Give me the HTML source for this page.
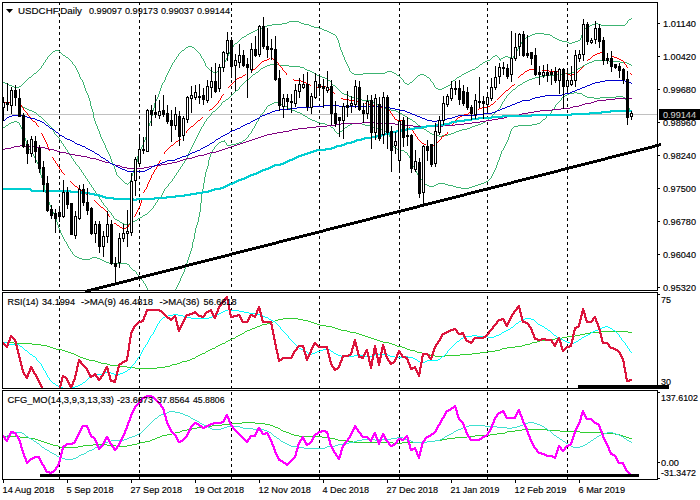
<!DOCTYPE html>
<html><head><meta charset="utf-8"><title>USDCHF Daily</title>
<style>
html,body{margin:0;padding:0;background:#fff;}
body{width:700px;height:500px;overflow:hidden;}
svg{display:block;}
.t{font-family:"Liberation Sans",sans-serif;font-size:9.8px;white-space:pre;stroke:#000;stroke-width:0.15px;}
</style></head><body>
<svg width="700" height="500" viewBox="0 0 700 500">
<rect width="700" height="500" fill="#fff"/>
<rect x="2.5" y="2.5" width="655" height="288" fill="none" stroke="#000" stroke-width="1"/>
<rect x="2.5" y="292.5" width="655" height="96" fill="none" stroke="#000" stroke-width="1"/>
<rect x="2.5" y="390.5" width="655" height="89" fill="none" stroke="#000" stroke-width="1"/>
<line x1="59.5" y1="3" x2="59.5" y2="290" stroke="#000" stroke-width="1" stroke-dasharray="3 3" stroke-dashoffset="1" shape-rendering="crispEdges"/>
<line x1="59.5" y1="293" x2="59.5" y2="388" stroke="#000" stroke-width="1" stroke-dasharray="3 3" stroke-dashoffset="3" shape-rendering="crispEdges"/>
<line x1="59.5" y1="391" x2="59.5" y2="479" stroke="#000" stroke-width="1" stroke-dasharray="3 3" stroke-dashoffset="5" shape-rendering="crispEdges"/>
<line x1="139.5" y1="3" x2="139.5" y2="290" stroke="#000" stroke-width="1" stroke-dasharray="3 3" stroke-dashoffset="1" shape-rendering="crispEdges"/>
<line x1="139.5" y1="293" x2="139.5" y2="388" stroke="#000" stroke-width="1" stroke-dasharray="3 3" stroke-dashoffset="3" shape-rendering="crispEdges"/>
<line x1="139.5" y1="391" x2="139.5" y2="479" stroke="#000" stroke-width="1" stroke-dasharray="3 3" stroke-dashoffset="5" shape-rendering="crispEdges"/>
<line x1="231.5" y1="3" x2="231.5" y2="290" stroke="#000" stroke-width="1" stroke-dasharray="3 3" stroke-dashoffset="1" shape-rendering="crispEdges"/>
<line x1="231.5" y1="293" x2="231.5" y2="388" stroke="#000" stroke-width="1" stroke-dasharray="3 3" stroke-dashoffset="3" shape-rendering="crispEdges"/>
<line x1="231.5" y1="391" x2="231.5" y2="479" stroke="#000" stroke-width="1" stroke-dasharray="3 3" stroke-dashoffset="5" shape-rendering="crispEdges"/>
<line x1="319.5" y1="3" x2="319.5" y2="290" stroke="#000" stroke-width="1" stroke-dasharray="3 3" stroke-dashoffset="1" shape-rendering="crispEdges"/>
<line x1="319.5" y1="293" x2="319.5" y2="388" stroke="#000" stroke-width="1" stroke-dasharray="3 3" stroke-dashoffset="3" shape-rendering="crispEdges"/>
<line x1="319.5" y1="391" x2="319.5" y2="479" stroke="#000" stroke-width="1" stroke-dasharray="3 3" stroke-dashoffset="5" shape-rendering="crispEdges"/>
<line x1="399.5" y1="3" x2="399.5" y2="290" stroke="#000" stroke-width="1" stroke-dasharray="3 3" stroke-dashoffset="1" shape-rendering="crispEdges"/>
<line x1="399.5" y1="293" x2="399.5" y2="388" stroke="#000" stroke-width="1" stroke-dasharray="3 3" stroke-dashoffset="3" shape-rendering="crispEdges"/>
<line x1="399.5" y1="391" x2="399.5" y2="479" stroke="#000" stroke-width="1" stroke-dasharray="3 3" stroke-dashoffset="5" shape-rendering="crispEdges"/>
<line x1="487.5" y1="3" x2="487.5" y2="290" stroke="#000" stroke-width="1" stroke-dasharray="3 3" stroke-dashoffset="1" shape-rendering="crispEdges"/>
<line x1="487.5" y1="293" x2="487.5" y2="388" stroke="#000" stroke-width="1" stroke-dasharray="3 3" stroke-dashoffset="3" shape-rendering="crispEdges"/>
<line x1="487.5" y1="391" x2="487.5" y2="479" stroke="#000" stroke-width="1" stroke-dasharray="3 3" stroke-dashoffset="5" shape-rendering="crispEdges"/>
<line x1="567.5" y1="3" x2="567.5" y2="290" stroke="#000" stroke-width="1" stroke-dasharray="3 3" stroke-dashoffset="1" shape-rendering="crispEdges"/>
<line x1="567.5" y1="293" x2="567.5" y2="388" stroke="#000" stroke-width="1" stroke-dasharray="3 3" stroke-dashoffset="3" shape-rendering="crispEdges"/>
<line x1="567.5" y1="391" x2="567.5" y2="479" stroke="#000" stroke-width="1" stroke-dasharray="3 3" stroke-dashoffset="5" shape-rendering="crispEdges"/>
<line x1="3" y1="114.5" x2="657" y2="114.5" stroke="#c0c0c0" stroke-width="1"/>
<g shape-rendering="crispEdges">
<path fill="#3cb371" d="M631 18h1v1h-1zM629 19h2v1h-2zM628 20h1v1h-1zM289 21h10v1h-10zM627 21h1v1h-1zM287 22h2v1h-2zM299 22h2v1h-2zM627 22h1v1h-1zM282 23h5v1h-5zM301 23h3v1h-3zM595 23h3v1h-3zM626 23h1v1h-1zM272 24h10v1h-10zM304 24h5v1h-5zM592 24h3v1h-3zM598 24h3v1h-3zM625 24h1v1h-1zM267 25h5v1h-5zM309 25h2v1h-2zM590 25h2v1h-2zM601 25h24v1h-24zM265 26h2v1h-2zM311 26h3v1h-3zM588 26h2v1h-2zM262 27h3v1h-3zM314 27h5v1h-5zM586 27h2v1h-2zM260 28h2v1h-2zM319 28h3v1h-3zM585 28h1v1h-1zM257 29h3v1h-3zM322 29h2v1h-2zM584 29h1v1h-1zM255 30h2v1h-2zM324 30h3v1h-3zM583 30h1v1h-1zM253 31h2v1h-2zM327 31h2v1h-2zM583 31h1v1h-1zM251 32h2v1h-2zM329 32h2v1h-2zM582 32h1v1h-1zM249 33h2v1h-2zM331 33h2v1h-2zM535 33h9v1h-9zM582 33h1v1h-1zM247 34h2v1h-2zM333 34h2v1h-2zM532 34h3v1h-3zM544 34h6v1h-6zM582 34h1v1h-1zM246 35h1v1h-1zM335 35h1v1h-1zM530 35h2v1h-2zM550 35h2v1h-2zM581 35h1v1h-1zM244 36h2v1h-2zM336 36h1v1h-1zM528 36h2v1h-2zM552 36h1v1h-1zM581 36h1v1h-1zM242 37h2v1h-2zM336 37h1v1h-1zM526 37h2v1h-2zM553 37h2v1h-2zM581 37h1v1h-1zM241 38h1v1h-1zM337 38h1v1h-1zM525 38h1v1h-1zM555 38h2v1h-2zM580 38h1v1h-1zM240 39h1v1h-1zM337 39h1v1h-1zM524 39h1v1h-1zM557 39h2v1h-2zM580 39h1v1h-1zM239 40h1v1h-1zM338 40h1v1h-1zM523 40h1v1h-1zM559 40h3v1h-3zM578 40h2v1h-2zM238 41h1v1h-1zM338 41h1v1h-1zM522 41h1v1h-1zM562 41h5v1h-5zM575 41h3v1h-3zM237 42h1v1h-1zM338 42h1v1h-1zM521 42h1v1h-1zM567 42h2v1h-2zM572 42h3v1h-3zM235 43h2v1h-2zM339 43h1v1h-1zM521 43h1v1h-1zM569 43h3v1h-3zM234 44h1v1h-1zM339 44h1v1h-1zM520 44h1v1h-1zM233 45h1v1h-1zM339 45h1v1h-1zM519 45h1v1h-1zM188 46h4v1h-4zM233 46h1v1h-1zM339 46h1v1h-1zM519 46h1v1h-1zM186 47h2v1h-2zM192 47h2v1h-2zM232 47h1v1h-1zM340 47h1v1h-1zM518 47h1v1h-1zM185 48h1v1h-1zM194 48h1v1h-1zM232 48h1v1h-1zM340 48h1v1h-1zM518 48h1v1h-1zM184 49h1v1h-1zM195 49h1v1h-1zM231 49h1v1h-1zM340 49h1v1h-1zM517 49h1v1h-1zM55 50h4v1h-4zM182 50h2v1h-2zM196 50h1v1h-1zM230 50h1v1h-1zM341 50h1v1h-1zM517 50h1v1h-1zM53 51h2v1h-2zM59 51h1v1h-1zM181 51h1v1h-1zM197 51h1v1h-1zM230 51h1v1h-1zM341 51h1v1h-1zM516 51h1v1h-1zM52 52h1v1h-1zM60 52h1v1h-1zM180 52h1v1h-1zM198 52h1v1h-1zM229 52h1v1h-1zM342 52h1v1h-1zM516 52h1v1h-1zM51 53h1v1h-1zM61 53h1v1h-1zM179 53h1v1h-1zM199 53h1v1h-1zM229 53h1v1h-1zM342 53h1v1h-1zM515 53h1v1h-1zM50 54h1v1h-1zM62 54h1v1h-1zM178 54h1v1h-1zM200 54h1v1h-1zM228 54h1v1h-1zM342 54h1v1h-1zM514 54h1v1h-1zM49 55h1v1h-1zM63 55h2v1h-2zM178 55h1v1h-1zM200 55h1v1h-1zM228 55h1v1h-1zM343 55h1v1h-1zM495 55h2v1h-2zM514 55h1v1h-1zM48 56h1v1h-1zM65 56h1v1h-1zM177 56h1v1h-1zM201 56h1v1h-1zM227 56h1v1h-1zM343 56h1v1h-1zM493 56h2v1h-2zM497 56h1v1h-1zM505 56h3v1h-3zM513 56h1v1h-1zM47 57h1v1h-1zM66 57h2v1h-2zM176 57h1v1h-1zM201 57h1v1h-1zM227 57h1v1h-1zM344 57h1v1h-1zM492 57h1v1h-1zM498 57h1v1h-1zM503 57h2v1h-2zM508 57h3v1h-3zM513 57h1v1h-1zM47 58h1v1h-1zM68 58h1v1h-1zM176 58h1v1h-1zM202 58h1v1h-1zM226 58h1v1h-1zM344 58h1v1h-1zM491 58h1v1h-1zM499 58h1v1h-1zM501 58h2v1h-2zM511 58h2v1h-2zM46 59h1v1h-1zM69 59h1v1h-1zM175 59h1v1h-1zM203 59h1v1h-1zM226 59h1v1h-1zM344 59h1v1h-1zM490 59h1v1h-1zM499 59h2v1h-2zM45 60h1v1h-1zM70 60h1v1h-1zM174 60h1v1h-1zM203 60h1v1h-1zM225 60h1v1h-1zM345 60h1v1h-1zM487 60h3v1h-3zM500 60h1v1h-1zM45 61h1v1h-1zM71 61h1v1h-1zM174 61h1v1h-1zM204 61h1v1h-1zM225 61h1v1h-1zM345 61h1v1h-1zM485 61h2v1h-2zM44 62h1v1h-1zM72 62h1v1h-1zM173 62h1v1h-1zM204 62h1v1h-1zM224 62h1v1h-1zM346 62h1v1h-1zM483 62h2v1h-2zM43 63h1v1h-1zM72 63h1v1h-1zM172 63h1v1h-1zM205 63h1v1h-1zM224 63h1v1h-1zM346 63h1v1h-1zM482 63h1v1h-1zM43 64h1v1h-1zM73 64h1v1h-1zM172 64h1v1h-1zM205 64h1v1h-1zM223 64h1v1h-1zM347 64h1v1h-1zM480 64h2v1h-2zM42 65h1v1h-1zM74 65h1v1h-1zM171 65h1v1h-1zM205 65h1v1h-1zM223 65h1v1h-1zM347 65h1v1h-1zM479 65h1v1h-1zM41 66h1v1h-1zM75 66h1v1h-1zM171 66h1v1h-1zM206 66h1v1h-1zM222 66h1v1h-1zM348 66h1v1h-1zM478 66h1v1h-1zM41 67h1v1h-1zM75 67h1v1h-1zM170 67h1v1h-1zM207 67h1v1h-1zM221 67h1v1h-1zM348 67h1v1h-1zM476 67h2v1h-2zM40 68h1v1h-1zM76 68h1v1h-1zM170 68h1v1h-1zM208 68h1v1h-1zM220 68h1v1h-1zM349 68h1v1h-1zM475 68h1v1h-1zM39 69h1v1h-1zM76 69h1v1h-1zM169 69h1v1h-1zM209 69h1v1h-1zM220 69h1v1h-1zM349 69h1v1h-1zM472 69h3v1h-3zM38 70h1v1h-1zM77 70h1v1h-1zM169 70h1v1h-1zM210 70h1v1h-1zM218 70h2v1h-2zM349 70h1v1h-1zM470 70h2v1h-2zM37 71h1v1h-1zM77 71h1v1h-1zM168 71h1v1h-1zM211 71h2v1h-2zM217 71h1v1h-1zM350 71h1v1h-1zM387 71h5v1h-5zM468 71h2v1h-2zM36 72h1v1h-1zM78 72h1v1h-1zM168 72h1v1h-1zM213 72h2v1h-2zM216 72h1v1h-1zM351 72h1v1h-1zM385 72h2v1h-2zM392 72h2v1h-2zM466 72h2v1h-2zM34 73h2v1h-2zM78 73h1v1h-1zM167 73h1v1h-1zM215 73h1v1h-1zM352 73h2v1h-2zM363 73h22v1h-22zM394 73h2v1h-2zM464 73h2v1h-2zM33 74h1v1h-1zM79 74h1v1h-1zM167 74h1v1h-1zM354 74h9v1h-9zM396 74h1v1h-1zM420 74h4v1h-4zM462 74h2v1h-2zM32 75h1v1h-1zM79 75h1v1h-1zM166 75h1v1h-1zM397 75h2v1h-2zM418 75h2v1h-2zM424 75h2v1h-2zM461 75h1v1h-1zM31 76h1v1h-1zM79 76h1v1h-1zM166 76h1v1h-1zM399 76h1v1h-1zM417 76h1v1h-1zM426 76h1v1h-1zM459 76h2v1h-2zM29 77h2v1h-2zM80 77h1v1h-1zM165 77h1v1h-1zM400 77h1v1h-1zM416 77h1v1h-1zM427 77h2v1h-2zM457 77h2v1h-2zM28 78h1v1h-1zM80 78h1v1h-1zM165 78h1v1h-1zM401 78h1v1h-1zM415 78h1v1h-1zM429 78h1v1h-1zM456 78h1v1h-1zM27 79h1v1h-1zM81 79h1v1h-1zM165 79h1v1h-1zM402 79h1v1h-1zM414 79h1v1h-1zM430 79h1v1h-1zM455 79h1v1h-1zM26 80h1v1h-1zM82 80h1v1h-1zM164 80h1v1h-1zM403 80h1v1h-1zM413 80h1v1h-1zM430 80h1v1h-1zM453 80h2v1h-2zM25 81h1v1h-1zM82 81h1v1h-1zM164 81h1v1h-1zM403 81h1v1h-1zM412 81h1v1h-1zM431 81h1v1h-1zM452 81h1v1h-1zM3 82h2v1h-2zM24 82h1v1h-1zM83 82h1v1h-1zM163 82h1v1h-1zM404 82h1v1h-1zM410 82h2v1h-2zM432 82h1v1h-1zM451 82h1v1h-1zM5 83h2v1h-2zM23 83h1v1h-1zM83 83h1v1h-1zM162 83h1v1h-1zM405 83h2v1h-2zM409 83h1v1h-1zM433 83h1v1h-1zM451 83h1v1h-1zM7 84h2v1h-2zM22 84h1v1h-1zM83 84h1v1h-1zM162 84h1v1h-1zM407 84h2v1h-2zM433 84h1v1h-1zM450 84h1v1h-1zM9 85h3v1h-3zM21 85h1v1h-1zM84 85h1v1h-1zM161 85h1v1h-1zM434 85h1v1h-1zM448 85h2v1h-2zM12 86h2v1h-2zM19 86h2v1h-2zM84 86h1v1h-1zM161 86h1v1h-1zM434 86h1v1h-1zM446 86h2v1h-2zM14 87h5v1h-5zM84 87h1v1h-1zM161 87h1v1h-1zM435 87h1v1h-1zM444 87h2v1h-2zM85 88h1v1h-1zM160 88h1v1h-1zM436 88h2v1h-2zM442 88h2v1h-2zM85 89h1v1h-1zM160 89h1v1h-1zM438 89h4v1h-4zM85 90h1v1h-1zM160 90h1v1h-1zM86 91h1v1h-1zM159 91h1v1h-1zM86 92h1v1h-1zM159 92h1v1h-1zM87 93h1v1h-1zM159 93h1v1h-1zM87 94h1v1h-1zM158 94h1v1h-1zM88 95h1v1h-1zM158 95h1v1h-1zM88 96h1v1h-1zM158 96h1v1h-1zM88 97h1v1h-1zM157 97h1v1h-1zM89 98h1v1h-1zM157 98h1v1h-1zM89 99h1v1h-1zM156 99h1v1h-1zM89 100h1v1h-1zM156 100h1v1h-1zM90 101h1v1h-1zM155 101h1v1h-1zM90 102h1v1h-1zM155 102h1v1h-1zM90 103h1v1h-1zM154 103h1v1h-1zM90 104h1v1h-1zM154 104h1v1h-1zM90 105h1v1h-1zM154 105h1v1h-1zM91 106h1v1h-1zM154 106h1v1h-1zM91 107h1v1h-1zM154 107h1v1h-1zM91 108h1v1h-1zM153 108h1v1h-1zM92 109h1v1h-1zM153 109h1v1h-1zM92 110h1v1h-1zM153 110h1v1h-1zM92 111h1v1h-1zM152 111h1v1h-1zM93 112h1v1h-1zM152 112h1v1h-1zM93 113h1v1h-1zM152 113h1v1h-1zM93 114h1v1h-1zM152 114h1v1h-1zM93 115h1v1h-1zM152 115h1v1h-1zM93 116h1v1h-1zM151 116h1v1h-1zM93 117h1v1h-1zM151 117h1v1h-1zM94 118h1v1h-1zM151 118h1v1h-1zM94 119h1v1h-1zM151 119h1v1h-1zM94 120h1v1h-1zM151 120h1v1h-1zM95 121h1v1h-1zM150 121h1v1h-1zM95 122h1v1h-1zM150 122h1v1h-1zM95 123h1v1h-1zM149 123h1v1h-1zM96 124h1v1h-1zM149 124h1v1h-1zM96 125h1v1h-1zM149 125h1v1h-1zM97 126h1v1h-1zM148 126h1v1h-1zM97 127h1v1h-1zM148 127h1v1h-1zM97 128h1v1h-1zM148 128h1v1h-1zM98 129h1v1h-1zM148 129h1v1h-1zM98 130h1v1h-1zM148 130h1v1h-1zM99 131h1v1h-1zM148 131h1v1h-1zM99 132h1v1h-1zM147 132h1v1h-1zM99 133h1v1h-1zM147 133h1v1h-1zM100 134h1v1h-1zM147 134h1v1h-1zM100 135h1v1h-1zM146 135h1v1h-1zM100 136h1v1h-1zM146 136h1v1h-1zM101 137h1v1h-1zM145 137h1v1h-1zM101 138h1v1h-1zM145 138h1v1h-1zM102 139h1v1h-1zM145 139h1v1h-1zM102 140h1v1h-1zM144 140h1v1h-1zM103 141h1v1h-1zM144 141h1v1h-1zM103 142h1v1h-1zM143 142h1v1h-1zM104 143h1v1h-1zM143 143h1v1h-1zM104 144h1v1h-1zM143 144h1v1h-1zM105 145h1v1h-1zM142 145h1v1h-1zM105 146h1v1h-1zM142 146h1v1h-1zM105 147h1v1h-1zM141 147h1v1h-1zM106 148h1v1h-1zM141 148h1v1h-1zM106 149h1v1h-1zM140 149h1v1h-1zM107 150h1v1h-1zM140 150h1v1h-1zM107 151h1v1h-1zM139 151h1v1h-1zM108 152h1v1h-1zM139 152h1v1h-1zM108 153h1v1h-1zM138 153h1v1h-1zM109 154h1v1h-1zM138 154h1v1h-1zM109 155h1v1h-1zM138 155h1v1h-1zM110 156h1v1h-1zM137 156h1v1h-1zM110 157h1v1h-1zM137 157h1v1h-1zM110 158h1v1h-1zM137 158h1v1h-1zM111 159h1v1h-1zM137 159h1v1h-1zM111 160h1v1h-1zM137 160h1v1h-1zM111 161h1v1h-1zM137 161h1v1h-1zM112 162h1v1h-1zM136 162h1v1h-1zM112 163h1v1h-1zM136 163h1v1h-1zM113 164h1v1h-1zM135 164h1v1h-1zM113 165h1v1h-1zM135 165h1v1h-1zM114 166h1v1h-1zM135 166h1v1h-1zM114 167h1v1h-1zM134 167h1v1h-1zM114 168h1v1h-1zM134 168h1v1h-1zM115 169h1v1h-1zM134 169h1v1h-1zM115 170h1v1h-1zM133 170h1v1h-1zM115 171h1v1h-1zM133 171h1v1h-1zM116 172h1v1h-1zM133 172h1v1h-1zM116 173h1v1h-1zM132 173h1v1h-1zM116 174h1v1h-1zM132 174h1v1h-1zM117 175h1v1h-1zM132 175h1v1h-1zM118 176h1v1h-1zM131 176h1v1h-1zM119 177h1v1h-1zM131 177h1v1h-1zM120 178h1v1h-1zM131 178h1v1h-1zM121 179h1v1h-1zM131 179h1v1h-1zM122 180h1v1h-1zM130 180h1v1h-1zM123 181h1v1h-1zM130 181h1v1h-1zM124 182h1v1h-1zM129 182h1v1h-1zM125 183h2v1h-2zM128 183h1v1h-1zM127 184h1v1h-1z"/>
<path fill="#3cb371" d="M594 60h15v1h-15zM592 61h2v1h-2zM609 61h11v1h-11zM589 62h3v1h-3zM620 62h7v1h-7zM587 63h2v1h-2zM627 63h2v1h-2zM270 64h9v1h-9zM585 64h2v1h-2zM629 64h2v1h-2zM267 65h3v1h-3zM279 65h10v1h-10zM583 65h2v1h-2zM631 65h1v1h-1zM265 66h2v1h-2zM289 66h11v1h-11zM582 66h1v1h-1zM263 67h2v1h-2zM300 67h4v1h-4zM580 67h2v1h-2zM261 68h2v1h-2zM304 68h1v1h-1zM578 68h2v1h-2zM260 69h1v1h-1zM305 69h2v1h-2zM577 69h1v1h-1zM259 70h1v1h-1zM307 70h3v1h-3zM575 70h2v1h-2zM258 71h1v1h-1zM310 71h2v1h-2zM574 71h1v1h-1zM256 72h2v1h-2zM312 72h2v1h-2zM572 72h2v1h-2zM255 73h1v1h-1zM314 73h1v1h-1zM565 73h7v1h-7zM253 74h2v1h-2zM315 74h2v1h-2zM557 74h8v1h-8zM252 75h1v1h-1zM317 75h3v1h-3zM545 75h12v1h-12zM251 76h1v1h-1zM320 76h2v1h-2zM540 76h5v1h-5zM250 77h1v1h-1zM322 77h3v1h-3zM535 77h5v1h-5zM249 78h1v1h-1zM325 78h2v1h-2zM532 78h3v1h-3zM248 79h1v1h-1zM327 79h1v1h-1zM529 79h3v1h-3zM246 80h2v1h-2zM328 80h2v1h-2zM527 80h2v1h-2zM245 81h1v1h-1zM330 81h1v1h-1zM525 81h2v1h-2zM244 82h1v1h-1zM331 82h1v1h-1zM523 82h2v1h-2zM243 83h1v1h-1zM331 83h1v1h-1zM522 83h1v1h-1zM242 84h1v1h-1zM332 84h1v1h-1zM520 84h2v1h-2zM241 85h1v1h-1zM333 85h2v1h-2zM518 85h2v1h-2zM240 86h1v1h-1zM335 86h1v1h-1zM517 86h1v1h-1zM239 87h1v1h-1zM336 87h1v1h-1zM516 87h1v1h-1zM239 88h1v1h-1zM337 88h1v1h-1zM515 88h1v1h-1zM238 89h1v1h-1zM338 89h1v1h-1zM513 89h2v1h-2zM236 90h2v1h-2zM339 90h1v1h-1zM512 90h1v1h-1zM235 91h1v1h-1zM340 91h1v1h-1zM511 91h1v1h-1zM234 92h1v1h-1zM341 92h1v1h-1zM510 92h1v1h-1zM233 93h1v1h-1zM342 93h2v1h-2zM509 93h1v1h-1zM232 94h1v1h-1zM344 94h3v1h-3zM508 94h1v1h-1zM231 95h1v1h-1zM347 95h2v1h-2zM507 95h1v1h-1zM230 96h1v1h-1zM349 96h3v1h-3zM506 96h1v1h-1zM229 97h1v1h-1zM352 97h2v1h-2zM506 97h1v1h-1zM228 98h1v1h-1zM354 98h5v1h-5zM505 98h1v1h-1zM226 99h2v1h-2zM359 99h3v1h-3zM504 99h1v1h-1zM225 100h1v1h-1zM362 100h8v1h-8zM504 100h1v1h-1zM223 101h2v1h-2zM370 101h2v1h-2zM503 101h1v1h-1zM222 102h1v1h-1zM372 102h3v1h-3zM502 102h1v1h-1zM221 103h1v1h-1zM375 103h1v1h-1zM502 103h1v1h-1zM221 104h1v1h-1zM376 104h2v1h-2zM501 104h1v1h-1zM18 105h2v1h-2zM220 105h1v1h-1zM378 105h2v1h-2zM501 105h1v1h-1zM20 106h3v1h-3zM219 106h1v1h-1zM380 106h2v1h-2zM500 106h1v1h-1zM23 107h2v1h-2zM218 107h1v1h-1zM382 107h3v1h-3zM500 107h1v1h-1zM25 108h2v1h-2zM217 108h1v1h-1zM385 108h3v1h-3zM499 108h1v1h-1zM27 109h2v1h-2zM216 109h1v1h-1zM388 109h3v1h-3zM498 109h1v1h-1zM29 110h3v1h-3zM215 110h1v1h-1zM391 110h5v1h-5zM497 110h1v1h-1zM32 111h2v1h-2zM213 111h2v1h-2zM396 111h2v1h-2zM496 111h1v1h-1zM34 112h2v1h-2zM212 112h1v1h-1zM398 112h2v1h-2zM495 112h1v1h-1zM36 113h1v1h-1zM211 113h1v1h-1zM400 113h2v1h-2zM494 113h1v1h-1zM37 114h1v1h-1zM211 114h1v1h-1zM402 114h1v1h-1zM493 114h1v1h-1zM38 115h1v1h-1zM210 115h1v1h-1zM403 115h2v1h-2zM492 115h1v1h-1zM39 116h2v1h-2zM209 116h1v1h-1zM405 116h2v1h-2zM491 116h1v1h-1zM41 117h1v1h-1zM208 117h1v1h-1zM407 117h1v1h-1zM490 117h1v1h-1zM42 118h1v1h-1zM207 118h1v1h-1zM408 118h2v1h-2zM489 118h1v1h-1zM43 119h1v1h-1zM206 119h1v1h-1zM410 119h2v1h-2zM488 119h1v1h-1zM44 120h1v1h-1zM206 120h1v1h-1zM412 120h1v1h-1zM486 120h2v1h-2zM45 121h1v1h-1zM205 121h1v1h-1zM413 121h2v1h-2zM485 121h1v1h-1zM46 122h1v1h-1zM204 122h1v1h-1zM415 122h1v1h-1zM483 122h2v1h-2zM47 123h1v1h-1zM204 123h1v1h-1zM416 123h1v1h-1zM481 123h2v1h-2zM48 124h1v1h-1zM203 124h1v1h-1zM417 124h1v1h-1zM478 124h3v1h-3zM49 125h1v1h-1zM203 125h1v1h-1zM418 125h2v1h-2zM475 125h3v1h-3zM50 126h1v1h-1zM202 126h1v1h-1zM420 126h1v1h-1zM472 126h3v1h-3zM51 127h1v1h-1zM201 127h1v1h-1zM421 127h1v1h-1zM470 127h2v1h-2zM52 128h1v1h-1zM201 128h1v1h-1zM422 128h2v1h-2zM467 128h3v1h-3zM52 129h1v1h-1zM200 129h1v1h-1zM424 129h2v1h-2zM462 129h5v1h-5zM53 130h1v1h-1zM200 130h1v1h-1zM426 130h1v1h-1zM459 130h3v1h-3zM53 131h1v1h-1zM199 131h1v1h-1zM427 131h2v1h-2zM456 131h3v1h-3zM54 132h1v1h-1zM199 132h1v1h-1zM429 132h1v1h-1zM454 132h2v1h-2zM54 133h1v1h-1zM198 133h1v1h-1zM430 133h2v1h-2zM451 133h3v1h-3zM55 134h1v1h-1zM198 134h1v1h-1zM432 134h2v1h-2zM448 134h3v1h-3zM56 135h1v1h-1zM197 135h1v1h-1zM434 135h5v1h-5zM442 135h6v1h-6zM57 136h1v1h-1zM197 136h1v1h-1zM439 136h3v1h-3zM58 137h1v1h-1zM196 137h1v1h-1zM59 138h1v1h-1zM196 138h1v1h-1zM59 139h1v1h-1zM195 139h1v1h-1zM60 140h1v1h-1zM195 140h1v1h-1zM61 141h1v1h-1zM194 141h1v1h-1zM61 142h1v1h-1zM194 142h1v1h-1zM62 143h1v1h-1zM193 143h1v1h-1zM63 144h1v1h-1zM193 144h1v1h-1zM63 145h1v1h-1zM192 145h1v1h-1zM64 146h1v1h-1zM192 146h1v1h-1zM65 147h1v1h-1zM191 147h1v1h-1zM65 148h1v1h-1zM191 148h1v1h-1zM66 149h1v1h-1zM190 149h1v1h-1zM67 150h1v1h-1zM190 150h1v1h-1zM67 151h1v1h-1zM189 151h1v1h-1zM68 152h1v1h-1zM189 152h1v1h-1zM69 153h1v1h-1zM188 153h1v1h-1zM69 154h1v1h-1zM188 154h1v1h-1zM70 155h1v1h-1zM188 155h1v1h-1zM71 156h1v1h-1zM187 156h1v1h-1zM71 157h1v1h-1zM187 157h1v1h-1zM72 158h1v1h-1zM186 158h1v1h-1zM73 159h1v1h-1zM186 159h1v1h-1zM73 160h1v1h-1zM185 160h1v1h-1zM74 161h1v1h-1zM184 161h1v1h-1zM75 162h1v1h-1zM184 162h1v1h-1zM75 163h1v1h-1zM183 163h1v1h-1zM76 164h1v1h-1zM182 164h1v1h-1zM77 165h1v1h-1zM182 165h1v1h-1zM78 166h1v1h-1zM181 166h1v1h-1zM79 167h1v1h-1zM180 167h1v1h-1zM79 168h1v1h-1zM180 168h1v1h-1zM80 169h1v1h-1zM179 169h1v1h-1zM81 170h1v1h-1zM178 170h1v1h-1zM81 171h1v1h-1zM178 171h1v1h-1zM82 172h1v1h-1zM177 172h1v1h-1zM83 173h1v1h-1zM176 173h1v1h-1zM83 174h1v1h-1zM176 174h1v1h-1zM84 175h1v1h-1zM175 175h1v1h-1zM85 176h1v1h-1zM174 176h1v1h-1zM85 177h1v1h-1zM174 177h1v1h-1zM86 178h1v1h-1zM173 178h1v1h-1zM87 179h1v1h-1zM172 179h1v1h-1zM87 180h1v1h-1zM172 180h1v1h-1zM88 181h1v1h-1zM171 181h1v1h-1zM89 182h1v1h-1zM170 182h1v1h-1zM89 183h1v1h-1zM169 183h1v1h-1zM90 184h1v1h-1zM168 184h1v1h-1zM91 185h1v1h-1zM168 185h1v1h-1zM91 186h1v1h-1zM167 186h1v1h-1zM92 187h1v1h-1zM166 187h1v1h-1zM93 188h1v1h-1zM165 188h1v1h-1zM93 189h1v1h-1zM164 189h1v1h-1zM94 190h1v1h-1zM164 190h1v1h-1zM95 191h1v1h-1zM163 191h1v1h-1zM95 192h1v1h-1zM163 192h1v1h-1zM96 193h1v1h-1zM162 193h1v1h-1zM97 194h1v1h-1zM162 194h1v1h-1zM97 195h1v1h-1zM161 195h1v1h-1zM98 196h1v1h-1zM161 196h1v1h-1zM99 197h1v1h-1zM160 197h1v1h-1zM99 198h1v1h-1zM159 198h1v1h-1zM100 199h1v1h-1zM158 199h1v1h-1zM101 200h1v1h-1zM157 200h1v1h-1zM101 201h1v1h-1zM157 201h1v1h-1zM102 202h1v1h-1zM156 202h1v1h-1zM103 203h1v1h-1zM155 203h1v1h-1zM103 204h1v1h-1zM155 204h1v1h-1zM104 205h1v1h-1zM154 205h1v1h-1zM105 206h1v1h-1zM153 206h1v1h-1zM106 207h1v1h-1zM153 207h1v1h-1zM107 208h1v1h-1zM152 208h1v1h-1zM107 209h1v1h-1zM151 209h1v1h-1zM108 210h1v1h-1zM150 210h1v1h-1zM109 211h1v1h-1zM149 211h1v1h-1zM110 212h1v1h-1zM148 212h1v1h-1zM111 213h1v1h-1zM147 213h1v1h-1zM111 214h1v1h-1zM145 214h2v1h-2zM112 215h1v1h-1zM143 215h2v1h-2zM113 216h1v1h-1zM142 216h1v1h-1zM113 217h1v1h-1zM140 217h2v1h-2zM114 218h1v1h-1zM138 218h2v1h-2zM115 219h2v1h-2zM137 219h1v1h-1zM117 220h2v1h-2zM135 220h2v1h-2zM119 221h1v1h-1zM133 221h2v1h-2zM120 222h2v1h-2zM132 222h1v1h-1zM122 223h2v1h-2zM129 223h3v1h-3zM124 224h5v1h-5z"/>
<path fill="#3cb371" d="M574 92h3v1h-3zM569 93h5v1h-5zM577 93h5v1h-5zM567 94h2v1h-2zM582 94h1v1h-1zM565 95h2v1h-2zM583 95h2v1h-2zM563 96h2v1h-2zM585 96h2v1h-2zM616 96h7v1h-7zM562 97h1v1h-1zM587 97h7v1h-7zM600 97h16v1h-16zM623 97h2v1h-2zM561 98h1v1h-1zM594 98h6v1h-6zM625 98h1v1h-1zM561 99h1v1h-1zM625 99h1v1h-1zM560 100h1v1h-1zM626 100h1v1h-1zM559 101h1v1h-1zM626 101h1v1h-1zM274 102h5v1h-5zM558 102h1v1h-1zM627 102h1v1h-1zM272 103h2v1h-2zM279 103h2v1h-2zM557 103h1v1h-1zM627 103h1v1h-1zM270 104h2v1h-2zM281 104h2v1h-2zM556 104h1v1h-1zM627 104h1v1h-1zM268 105h2v1h-2zM283 105h2v1h-2zM555 105h1v1h-1zM628 105h1v1h-1zM267 106h1v1h-1zM285 106h2v1h-2zM555 106h1v1h-1zM628 106h1v1h-1zM266 107h1v1h-1zM287 107h1v1h-1zM554 107h1v1h-1zM628 107h1v1h-1zM266 108h1v1h-1zM288 108h2v1h-2zM554 108h1v1h-1zM629 108h1v1h-1zM265 109h1v1h-1zM290 109h2v1h-2zM553 109h1v1h-1zM629 109h1v1h-1zM264 110h1v1h-1zM292 110h3v1h-3zM552 110h1v1h-1zM630 110h1v1h-1zM264 111h1v1h-1zM295 111h2v1h-2zM551 111h1v1h-1zM630 111h1v1h-1zM263 112h1v1h-1zM297 112h3v1h-3zM551 112h1v1h-1zM631 112h1v1h-1zM262 113h1v1h-1zM300 113h2v1h-2zM550 113h1v1h-1zM261 114h1v1h-1zM302 114h1v1h-1zM548 114h2v1h-2zM260 115h1v1h-1zM303 115h2v1h-2zM547 115h1v1h-1zM260 116h1v1h-1zM305 116h2v1h-2zM546 116h1v1h-1zM259 117h1v1h-1zM307 117h1v1h-1zM546 117h1v1h-1zM259 118h1v1h-1zM308 118h2v1h-2zM545 118h1v1h-1zM258 119h1v1h-1zM310 119h2v1h-2zM543 119h2v1h-2zM258 120h1v1h-1zM312 120h3v1h-3zM542 120h1v1h-1zM14 121h3v1h-3zM257 121h1v1h-1zM315 121h2v1h-2zM541 121h1v1h-1zM11 122h3v1h-3zM17 122h2v1h-2zM256 122h1v1h-1zM317 122h3v1h-3zM540 122h1v1h-1zM9 123h2v1h-2zM19 123h1v1h-1zM256 123h1v1h-1zM320 123h5v1h-5zM352 123h10v1h-10zM537 123h3v1h-3zM8 124h1v1h-1zM19 124h1v1h-1zM255 124h1v1h-1zM325 124h2v1h-2zM350 124h2v1h-2zM362 124h3v1h-3zM532 124h5v1h-5zM6 125h2v1h-2zM20 125h1v1h-1zM255 125h1v1h-1zM327 125h3v1h-3zM348 125h2v1h-2zM365 125h5v1h-5zM518 125h14v1h-14zM5 126h1v1h-1zM20 126h1v1h-1zM254 126h1v1h-1zM330 126h1v1h-1zM347 126h1v1h-1zM370 126h2v1h-2zM514 126h4v1h-4zM3 127h2v1h-2zM21 127h1v1h-1zM254 127h1v1h-1zM331 127h2v1h-2zM345 127h2v1h-2zM372 127h5v1h-5zM513 127h1v1h-1zM21 128h1v1h-1zM253 128h1v1h-1zM333 128h1v1h-1zM344 128h1v1h-1zM377 128h3v1h-3zM512 128h1v1h-1zM22 129h1v1h-1zM252 129h1v1h-1zM334 129h1v1h-1zM343 129h1v1h-1zM380 129h2v1h-2zM511 129h1v1h-1zM22 130h1v1h-1zM252 130h1v1h-1zM334 130h1v1h-1zM342 130h1v1h-1zM382 130h2v1h-2zM511 130h1v1h-1zM23 131h1v1h-1zM251 131h1v1h-1zM335 131h1v1h-1zM340 131h2v1h-2zM384 131h2v1h-2zM510 131h1v1h-1zM23 132h1v1h-1zM251 132h1v1h-1zM336 132h1v1h-1zM339 132h1v1h-1zM386 132h2v1h-2zM510 132h1v1h-1zM23 133h1v1h-1zM250 133h1v1h-1zM337 133h2v1h-2zM388 133h1v1h-1zM510 133h1v1h-1zM24 134h1v1h-1zM249 134h1v1h-1zM388 134h1v1h-1zM509 134h1v1h-1zM24 135h1v1h-1zM248 135h1v1h-1zM389 135h1v1h-1zM509 135h1v1h-1zM24 136h1v1h-1zM248 136h1v1h-1zM389 136h1v1h-1zM509 136h1v1h-1zM24 137h1v1h-1zM247 137h1v1h-1zM390 137h1v1h-1zM508 137h1v1h-1zM25 138h1v1h-1zM246 138h1v1h-1zM390 138h1v1h-1zM508 138h1v1h-1zM25 139h1v1h-1zM245 139h1v1h-1zM390 139h1v1h-1zM508 139h1v1h-1zM25 140h1v1h-1zM224 140h1v1h-1zM243 140h2v1h-2zM390 140h1v1h-1zM507 140h1v1h-1zM26 141h1v1h-1zM221 141h4v1h-4zM242 141h1v1h-1zM390 141h1v1h-1zM507 141h1v1h-1zM26 142h1v1h-1zM219 142h2v1h-2zM225 142h1v1h-1zM239 142h3v1h-3zM391 142h1v1h-1zM506 142h1v1h-1zM26 143h1v1h-1zM218 143h1v1h-1zM226 143h1v1h-1zM236 143h3v1h-3zM391 143h1v1h-1zM506 143h1v1h-1zM27 144h1v1h-1zM217 144h1v1h-1zM226 144h1v1h-1zM231 144h5v1h-5zM392 144h1v1h-1zM505 144h1v1h-1zM27 145h1v1h-1zM216 145h1v1h-1zM227 145h4v1h-4zM392 145h1v1h-1zM505 145h1v1h-1zM27 146h1v1h-1zM215 146h1v1h-1zM393 146h1v1h-1zM504 146h1v1h-1zM28 147h1v1h-1zM214 147h1v1h-1zM394 147h1v1h-1zM504 147h1v1h-1zM28 148h1v1h-1zM214 148h1v1h-1zM395 148h2v1h-2zM503 148h1v1h-1zM29 149h1v1h-1zM213 149h1v1h-1zM397 149h4v1h-4zM503 149h1v1h-1zM30 150h1v1h-1zM212 150h1v1h-1zM401 150h3v1h-3zM502 150h1v1h-1zM31 151h1v1h-1zM212 151h1v1h-1zM404 151h1v1h-1zM501 151h1v1h-1zM31 152h1v1h-1zM211 152h1v1h-1zM405 152h2v1h-2zM501 152h1v1h-1zM32 153h1v1h-1zM211 153h1v1h-1zM407 153h1v1h-1zM501 153h1v1h-1zM33 154h1v1h-1zM210 154h1v1h-1zM407 154h1v1h-1zM500 154h1v1h-1zM33 155h1v1h-1zM210 155h1v1h-1zM408 155h1v1h-1zM500 155h1v1h-1zM34 156h1v1h-1zM210 156h1v1h-1zM409 156h1v1h-1zM500 156h1v1h-1zM34 157h1v1h-1zM209 157h1v1h-1zM409 157h1v1h-1zM499 157h1v1h-1zM35 158h1v1h-1zM209 158h1v1h-1zM410 158h1v1h-1zM499 158h1v1h-1zM35 159h1v1h-1zM209 159h1v1h-1zM410 159h1v1h-1zM499 159h1v1h-1zM36 160h1v1h-1zM208 160h1v1h-1zM410 160h1v1h-1zM498 160h1v1h-1zM36 161h1v1h-1zM208 161h1v1h-1zM410 161h1v1h-1zM498 161h1v1h-1zM37 162h1v1h-1zM208 162h1v1h-1zM411 162h1v1h-1zM497 162h1v1h-1zM37 163h1v1h-1zM208 163h1v1h-1zM411 163h1v1h-1zM497 163h1v1h-1zM38 164h1v1h-1zM208 164h1v1h-1zM412 164h1v1h-1zM497 164h1v1h-1zM38 165h1v1h-1zM208 165h1v1h-1zM412 165h1v1h-1zM496 165h1v1h-1zM39 166h1v1h-1zM207 166h1v1h-1zM413 166h1v1h-1zM496 166h1v1h-1zM39 167h1v1h-1zM207 167h1v1h-1zM414 167h1v1h-1zM496 167h1v1h-1zM39 168h1v1h-1zM207 168h1v1h-1zM414 168h1v1h-1zM495 168h1v1h-1zM40 169h1v1h-1zM206 169h1v1h-1zM415 169h1v1h-1zM495 169h1v1h-1zM40 170h1v1h-1zM206 170h1v1h-1zM415 170h1v1h-1zM494 170h1v1h-1zM40 171h1v1h-1zM206 171h1v1h-1zM416 171h1v1h-1zM494 171h1v1h-1zM40 172h1v1h-1zM205 172h1v1h-1zM416 172h1v1h-1zM493 172h1v1h-1zM40 173h1v1h-1zM205 173h1v1h-1zM417 173h1v1h-1zM493 173h1v1h-1zM40 174h1v1h-1zM205 174h1v1h-1zM417 174h1v1h-1zM492 174h1v1h-1zM41 175h1v1h-1zM205 175h1v1h-1zM418 175h1v1h-1zM492 175h1v1h-1zM41 176h1v1h-1zM205 176h1v1h-1zM419 176h1v1h-1zM491 176h1v1h-1zM41 177h1v1h-1zM204 177h1v1h-1zM420 177h1v1h-1zM491 177h1v1h-1zM42 178h1v1h-1zM204 178h1v1h-1zM420 178h1v1h-1zM490 178h1v1h-1zM42 179h1v1h-1zM204 179h1v1h-1zM421 179h1v1h-1zM489 179h1v1h-1zM42 180h1v1h-1zM204 180h1v1h-1zM422 180h1v1h-1zM488 180h1v1h-1zM43 181h1v1h-1zM204 181h1v1h-1zM423 181h1v1h-1zM486 181h2v1h-2zM43 182h1v1h-1zM204 182h1v1h-1zM423 182h1v1h-1zM484 182h2v1h-2zM43 183h1v1h-1zM203 183h1v1h-1zM424 183h1v1h-1zM438 183h7v1h-7zM481 183h3v1h-3zM44 184h1v1h-1zM203 184h1v1h-1zM425 184h2v1h-2zM436 184h2v1h-2zM445 184h3v1h-3zM478 184h3v1h-3zM44 185h1v1h-1zM203 185h1v1h-1zM427 185h2v1h-2zM434 185h2v1h-2zM448 185h5v1h-5zM475 185h3v1h-3zM44 186h1v1h-1zM203 186h1v1h-1zM429 186h5v1h-5zM453 186h3v1h-3zM472 186h3v1h-3zM44 187h1v1h-1zM203 187h1v1h-1zM456 187h5v1h-5zM469 187h3v1h-3zM44 188h1v1h-1zM203 188h1v1h-1zM461 188h8v1h-8zM44 189h1v1h-1zM202 189h1v1h-1zM45 190h1v1h-1zM202 190h1v1h-1zM45 191h1v1h-1zM202 191h1v1h-1zM45 192h1v1h-1zM202 192h1v1h-1zM46 193h1v1h-1zM202 193h1v1h-1zM46 194h1v1h-1zM201 194h1v1h-1zM46 195h1v1h-1zM201 195h1v1h-1zM47 196h1v1h-1zM201 196h1v1h-1zM47 197h1v1h-1zM201 197h1v1h-1zM47 198h1v1h-1zM201 198h1v1h-1zM48 199h1v1h-1zM201 199h1v1h-1zM48 200h1v1h-1zM201 200h1v1h-1zM48 201h1v1h-1zM201 201h1v1h-1zM49 202h1v1h-1zM201 202h1v1h-1zM49 203h1v1h-1zM200 203h1v1h-1zM49 204h1v1h-1zM200 204h1v1h-1zM50 205h1v1h-1zM200 205h1v1h-1zM50 206h1v1h-1zM200 206h1v1h-1zM51 207h1v1h-1zM200 207h1v1h-1zM51 208h1v1h-1zM200 208h1v1h-1zM51 209h1v1h-1zM200 209h1v1h-1zM52 210h1v1h-1zM200 210h1v1h-1zM52 211h1v1h-1zM200 211h1v1h-1zM53 212h1v1h-1zM199 212h1v1h-1zM53 213h1v1h-1zM199 213h1v1h-1zM54 214h1v1h-1zM199 214h1v1h-1zM54 215h1v1h-1zM199 215h1v1h-1zM54 216h1v1h-1zM199 216h1v1h-1zM55 217h1v1h-1zM198 217h1v1h-1zM55 218h1v1h-1zM198 218h1v1h-1zM56 219h1v1h-1zM198 219h1v1h-1zM56 220h1v1h-1zM198 220h1v1h-1zM56 221h1v1h-1zM198 221h1v1h-1zM57 222h1v1h-1zM197 222h1v1h-1zM57 223h1v1h-1zM197 223h1v1h-1zM57 224h1v1h-1zM197 224h1v1h-1zM58 225h1v1h-1zM196 225h1v1h-1zM58 226h1v1h-1zM196 226h1v1h-1zM58 227h1v1h-1zM196 227h1v1h-1zM59 228h1v1h-1zM195 228h1v1h-1zM59 229h1v1h-1zM195 229h1v1h-1zM60 230h1v1h-1zM195 230h1v1h-1zM60 231h1v1h-1zM195 231h1v1h-1zM60 232h1v1h-1zM195 232h1v1h-1zM61 233h1v1h-1zM194 233h1v1h-1zM61 234h1v1h-1zM194 234h1v1h-1zM62 235h1v1h-1zM194 235h1v1h-1zM62 236h1v1h-1zM194 236h1v1h-1zM63 237h1v1h-1zM194 237h1v1h-1zM63 238h1v1h-1zM194 238h1v1h-1zM64 239h1v1h-1zM193 239h1v1h-1zM64 240h1v1h-1zM193 240h1v1h-1zM65 241h1v1h-1zM193 241h1v1h-1zM66 242h1v1h-1zM192 242h1v1h-1zM66 243h1v1h-1zM192 243h1v1h-1zM67 244h1v1h-1zM192 244h1v1h-1zM67 245h1v1h-1zM192 245h1v1h-1zM68 246h1v1h-1zM192 246h1v1h-1zM68 247h1v1h-1zM192 247h1v1h-1zM69 248h1v1h-1zM191 248h1v1h-1zM70 249h1v1h-1zM191 249h1v1h-1zM70 250h1v1h-1zM191 250h1v1h-1zM71 251h1v1h-1zM190 251h1v1h-1zM72 252h1v1h-1zM190 252h1v1h-1zM72 253h1v1h-1zM190 253h1v1h-1zM73 254h1v1h-1zM189 254h1v1h-1zM74 255h1v1h-1zM189 255h1v1h-1zM75 256h2v1h-2zM189 256h1v1h-1zM77 257h2v1h-2zM92 257h5v1h-5zM188 257h1v1h-1zM79 258h3v1h-3zM90 258h2v1h-2zM97 258h3v1h-3zM188 258h1v1h-1zM82 259h8v1h-8zM100 259h2v1h-2zM188 259h1v1h-1zM102 260h2v1h-2zM187 260h1v1h-1zM104 261h2v1h-2zM187 261h1v1h-1zM106 262h3v1h-3zM187 262h1v1h-1zM109 263h18v1h-18zM186 263h1v1h-1zM127 264h2v1h-2zM186 264h1v1h-1zM129 265h1v1h-1zM186 265h1v1h-1zM129 266h1v1h-1zM185 266h1v1h-1zM130 267h1v1h-1zM185 267h1v1h-1zM131 268h1v1h-1zM185 268h1v1h-1zM132 269h1v1h-1zM184 269h1v1h-1zM133 270h2v1h-2zM184 270h1v1h-1zM135 271h1v1h-1zM184 271h1v1h-1zM136 272h1v1h-1zM183 272h1v1h-1zM136 273h1v1h-1zM183 273h1v1h-1zM137 274h1v1h-1zM182 274h1v1h-1zM138 275h1v1h-1zM182 275h1v1h-1zM139 276h1v1h-1zM181 276h1v1h-1zM140 277h1v1h-1zM181 277h1v1h-1zM141 278h1v1h-1zM180 278h1v1h-1zM141 279h1v1h-1zM180 279h1v1h-1zM142 280h1v1h-1zM180 280h1v1h-1zM143 281h1v1h-1zM179 281h1v1h-1zM143 282h1v1h-1zM179 282h1v1h-1zM144 283h1v1h-1zM178 283h1v1h-1zM145 284h1v1h-1zM178 284h1v1h-1zM145 285h1v1h-1zM177 285h1v1h-1zM146 286h1v1h-1zM177 286h1v1h-1zM146 287h1v1h-1zM176 287h1v1h-1zM147 288h1v1h-1zM176 288h1v1h-1zM147 289h1v1h-1zM175 289h1v1h-1z"/>
<path fill="#ff0000" d="M600 52h5v1h-5zM597 53h3v1h-3zM595 54h2v1h-2zM593 55h2v1h-2zM611 55h1v1h-1zM592 56h1v1h-1zM612 56h2v1h-2zM591 57h1v1h-1zM614 57h3v1h-3zM269 58h1v1h-1zM272 58h1v1h-1zM590 58h1v1h-1zM617 58h2v1h-2zM267 59h2v1h-2zM273 59h2v1h-2zM588 59h2v1h-2zM619 59h2v1h-2zM264 60h3v1h-3zM275 60h1v1h-1zM587 60h1v1h-1zM621 60h2v1h-2zM262 61h2v1h-2zM276 61h1v1h-1zM623 61h1v1h-1zM261 62h1v1h-1zM277 62h1v1h-1zM624 62h1v1h-1zM260 63h1v1h-1zM278 63h1v1h-1zM624 63h1v1h-1zM259 64h1v1h-1zM278 64h1v1h-1zM625 64h1v1h-1zM258 65h1v1h-1zM279 65h1v1h-1zM626 65h1v1h-1zM257 66h1v1h-1zM280 66h1v1h-1zM583 66h1v1h-1zM626 66h1v1h-1zM256 67h1v1h-1zM281 67h1v1h-1zM582 67h1v1h-1zM627 67h1v1h-1zM255 68h1v1h-1zM282 68h1v1h-1zM581 68h1v1h-1zM253 69h2v1h-2zM282 69h1v1h-1zM529 69h7v1h-7zM580 69h1v1h-1zM252 70h1v1h-1zM283 70h1v1h-1zM527 70h2v1h-2zM542 70h7v1h-7zM579 70h1v1h-1zM284 71h1v1h-1zM525 71h2v1h-2zM549 71h11v1h-11zM578 71h1v1h-1zM285 72h1v1h-1zM524 72h1v1h-1zM576 72h2v1h-2zM286 73h1v1h-1zM523 73h1v1h-1zM566 73h1v1h-1zM574 73h2v1h-2zM630 73h1v1h-1zM245 74h1v1h-1zM286 74h1v1h-1zM521 74h2v1h-2zM567 74h3v1h-3zM572 74h2v1h-2zM631 74h1v1h-1zM243 75h2v1h-2zM520 75h1v1h-1zM570 75h2v1h-2zM242 76h1v1h-1zM519 76h1v1h-1zM239 77h3v1h-3zM518 77h1v1h-1zM237 78h2v1h-2zM236 79h1v1h-1zM293 79h1v1h-1zM235 80h1v1h-1zM294 80h7v1h-7zM234 81h1v1h-1zM301 81h3v1h-3zM233 82h1v1h-1zM304 82h2v1h-2zM232 83h1v1h-1zM306 83h2v1h-2zM231 84h1v1h-1zM308 84h2v1h-2zM514 84h1v1h-1zM230 85h1v1h-1zM310 85h1v1h-1zM512 85h2v1h-2zM229 86h1v1h-1zM319 86h7v1h-7zM511 86h1v1h-1zM228 87h1v1h-1zM317 87h2v1h-2zM326 87h2v1h-2zM510 87h1v1h-1zM328 88h1v1h-1zM509 88h1v1h-1zM329 89h2v1h-2zM508 89h1v1h-1zM331 90h1v1h-1zM506 90h2v1h-2zM332 91h1v1h-1zM505 91h1v1h-1zM333 92h1v1h-1zM504 92h1v1h-1zM334 93h1v1h-1zM503 93h1v1h-1zM223 94h1v1h-1zM502 94h1v1h-1zM222 95h1v1h-1zM501 95h1v1h-1zM221 96h1v1h-1zM500 96h1v1h-1zM221 97h1v1h-1zM499 97h1v1h-1zM220 98h1v1h-1zM341 98h2v1h-2zM498 98h1v1h-1zM220 99h1v1h-1zM343 99h6v1h-6zM497 99h1v1h-1zM219 100h1v1h-1zM349 100h5v1h-5zM218 101h1v1h-1zM354 101h5v1h-5zM495 101h1v1h-1zM3 102h10v1h-10zM19 102h1v1h-1zM218 102h1v1h-1zM494 102h1v1h-1zM20 103h1v1h-1zM217 103h1v1h-1zM365 103h4v1h-4zM493 103h1v1h-1zM20 104h1v1h-1zM216 104h1v1h-1zM369 104h3v1h-3zM491 104h2v1h-2zM21 105h1v1h-1zM215 105h1v1h-1zM372 105h3v1h-3zM490 105h1v1h-1zM21 106h1v1h-1zM214 106h1v1h-1zM375 106h5v1h-5zM487 106h3v1h-3zM22 107h1v1h-1zM213 107h1v1h-1zM380 107h2v1h-2zM482 107h5v1h-5zM23 108h1v1h-1zM212 108h1v1h-1zM382 108h1v1h-1zM479 108h3v1h-3zM23 109h1v1h-1zM210 109h2v1h-2zM478 109h1v1h-1zM24 110h1v1h-1zM209 110h1v1h-1zM389 110h1v1h-1zM25 111h1v1h-1zM390 111h1v1h-1zM470 111h2v1h-2zM26 112h1v1h-1zM390 112h1v1h-1zM469 112h1v1h-1zM27 113h1v1h-1zM391 113h1v1h-1zM468 113h1v1h-1zM27 114h1v1h-1zM392 114h1v1h-1zM464 114h4v1h-4zM28 115h1v1h-1zM392 115h1v1h-1zM462 115h2v1h-2zM29 116h1v1h-1zM393 116h1v1h-1zM460 116h2v1h-2zM30 117h1v1h-1zM202 117h1v1h-1zM394 117h1v1h-1zM458 117h2v1h-2zM31 118h1v1h-1zM201 118h1v1h-1zM394 118h1v1h-1zM457 118h1v1h-1zM31 119h1v1h-1zM200 119h1v1h-1zM395 119h2v1h-2zM456 119h1v1h-1zM32 120h1v1h-1zM198 120h2v1h-2zM397 120h7v1h-7zM455 120h1v1h-1zM33 121h2v1h-2zM197 121h1v1h-1zM454 121h1v1h-1zM35 122h1v1h-1zM196 122h1v1h-1zM453 122h1v1h-1zM36 123h1v1h-1zM195 123h1v1h-1zM453 123h1v1h-1zM36 124h1v1h-1zM194 124h1v1h-1zM452 124h1v1h-1zM37 125h1v1h-1zM193 125h1v1h-1zM452 125h1v1h-1zM38 126h1v1h-1zM191 126h2v1h-2zM190 127h1v1h-1zM409 127h1v1h-1zM189 128h1v1h-1zM410 128h1v1h-1zM188 129h1v1h-1zM411 129h1v1h-1zM187 130h1v1h-1zM412 130h1v1h-1zM186 131h1v1h-1zM413 131h1v1h-1zM186 132h1v1h-1zM413 132h1v1h-1zM447 132h1v1h-1zM41 133h1v1h-1zM414 133h1v1h-1zM447 133h1v1h-1zM42 134h1v1h-1zM415 134h1v1h-1zM445 134h2v1h-2zM42 135h1v1h-1zM415 135h1v1h-1zM444 135h1v1h-1zM43 136h1v1h-1zM416 136h1v1h-1zM442 136h2v1h-2zM43 137h1v1h-1zM417 137h1v1h-1zM441 137h1v1h-1zM44 138h1v1h-1zM417 138h1v1h-1zM441 138h1v1h-1zM44 139h1v1h-1zM180 139h1v1h-1zM418 139h1v1h-1zM440 139h1v1h-1zM45 140h1v1h-1zM178 140h2v1h-2zM419 140h1v1h-1zM439 140h1v1h-1zM45 141h1v1h-1zM176 141h2v1h-2zM420 141h1v1h-1zM438 141h1v1h-1zM46 142h1v1h-1zM175 142h1v1h-1zM421 142h1v1h-1zM437 142h1v1h-1zM46 143h1v1h-1zM174 143h1v1h-1zM422 143h2v1h-2zM436 143h1v1h-1zM47 144h1v1h-1zM173 144h1v1h-1zM424 144h2v1h-2zM434 144h2v1h-2zM47 145h1v1h-1zM171 145h2v1h-2zM432 145h2v1h-2zM47 146h1v1h-1zM170 146h1v1h-1zM48 147h1v1h-1zM169 147h1v1h-1zM48 148h1v1h-1zM168 148h1v1h-1zM48 149h1v1h-1zM167 149h1v1h-1zM49 150h1v1h-1zM166 150h1v1h-1zM165 151h1v1h-1zM164 152h1v1h-1zM164 153h1v1h-1zM52 157h1v1h-1zM53 158h1v1h-1zM53 159h1v1h-1zM54 160h1v1h-1zM160 160h1v1h-1zM55 161h1v1h-1zM159 161h1v1h-1zM55 162h1v1h-1zM159 162h1v1h-1zM56 163h1v1h-1zM158 163h1v1h-1zM57 164h1v1h-1zM158 164h1v1h-1zM57 165h1v1h-1zM157 165h1v1h-1zM58 166h1v1h-1zM157 166h1v1h-1zM59 167h1v1h-1zM156 167h1v1h-1zM59 168h1v1h-1zM156 168h1v1h-1zM60 169h1v1h-1zM155 169h1v1h-1zM61 170h1v1h-1zM154 170h1v1h-1zM61 171h1v1h-1zM154 171h1v1h-1zM62 172h1v1h-1zM153 172h1v1h-1zM63 173h1v1h-1zM153 173h1v1h-1zM64 174h1v1h-1zM152 174h1v1h-1zM151 175h1v1h-1zM151 176h1v1h-1zM151 177h1v1h-1zM150 178h1v1h-1zM150 179h1v1h-1zM149 180h1v1h-1zM70 181h1v1h-1zM149 181h1v1h-1zM71 182h1v1h-1zM148 182h1v1h-1zM72 183h1v1h-1zM148 183h1v1h-1zM73 184h1v1h-1zM147 184h1v1h-1zM74 185h1v1h-1zM147 185h1v1h-1zM75 186h2v1h-2zM147 186h1v1h-1zM77 187h1v1h-1zM146 187h1v1h-1zM78 188h2v1h-2zM146 188h1v1h-1zM80 189h1v1h-1zM145 189h1v1h-1zM81 190h2v1h-2zM144 190h1v1h-1zM83 191h1v1h-1zM144 191h1v1h-1zM84 192h1v1h-1zM143 192h1v1h-1zM85 193h1v1h-1zM86 194h1v1h-1zM87 195h1v1h-1zM141 199h1v1h-1zM94 200h1v1h-1zM141 200h1v1h-1zM95 201h1v1h-1zM141 201h1v1h-1zM96 202h1v1h-1zM141 202h1v1h-1zM97 203h1v1h-1zM140 203h1v1h-1zM98 204h1v1h-1zM140 204h1v1h-1zM99 205h1v1h-1zM140 205h1v1h-1zM100 206h1v1h-1zM139 206h1v1h-1zM101 207h2v1h-2zM139 207h1v1h-1zM103 208h1v1h-1zM138 208h1v1h-1zM104 209h1v1h-1zM138 209h1v1h-1zM105 210h1v1h-1zM137 210h1v1h-1zM106 211h1v1h-1zM137 211h1v1h-1zM107 212h1v1h-1zM136 212h1v1h-1zM107 213h1v1h-1zM136 213h1v1h-1zM108 214h1v1h-1zM135 214h1v1h-1zM108 215h1v1h-1zM135 215h1v1h-1zM109 216h1v1h-1zM134 216h1v1h-1zM114 223h2v1h-2zM130 223h1v1h-1zM116 224h1v1h-1zM129 224h1v1h-1zM117 225h2v1h-2zM128 225h1v1h-1zM119 226h1v1h-1zM128 226h1v1h-1zM120 227h2v1h-2zM126 227h2v1h-2zM122 228h4v1h-4z"/>
<path fill="#800080" d="M615 98h17v1h-17zM606 99h9v1h-9zM597 100h9v1h-9zM594 101h3v1h-3zM591 102h3v1h-3zM585 103h6v1h-6zM582 104h3v1h-3zM579 105h3v1h-3zM573 106h6v1h-6zM570 107h3v1h-3zM561 108h9v1h-9zM552 109h9v1h-9zM540 110h12v1h-12zM534 111h6v1h-6zM528 112h6v1h-6zM522 113h6v1h-6zM519 114h3v1h-3zM513 115h6v1h-6zM507 116h6v1h-6zM504 117h3v1h-3zM498 118h6v1h-6zM492 119h6v1h-6zM486 120h6v1h-6zM480 121h6v1h-6zM362 122h12v1h-12zM472 122h8v1h-8zM341 123h21v1h-21zM374 123h21v1h-21zM464 123h8v1h-8zM335 124h6v1h-6zM395 124h9v1h-9zM455 124h9v1h-9zM327 125h8v1h-8zM404 125h9v1h-9zM443 125h12v1h-12zM316 126h11v1h-11zM413 126h30v1h-30zM307 127h9v1h-9zM298 128h9v1h-9zM292 129h6v1h-6zM289 130h3v1h-3zM283 131h6v1h-6zM277 132h6v1h-6zM272 133h5v1h-5zM267 134h5v1h-5zM264 135h3v1h-3zM261 136h3v1h-3zM258 137h3v1h-3zM255 138h3v1h-3zM252 139h3v1h-3zM249 140h3v1h-3zM246 141h3v1h-3zM243 142h3v1h-3zM240 143h3v1h-3zM237 144h3v1h-3zM20 145h4v1h-4zM234 145h3v1h-3zM14 146h6v1h-6zM24 146h12v1h-12zM231 146h3v1h-3zM11 147h3v1h-3zM36 147h9v1h-9zM228 147h3v1h-3zM5 148h6v1h-6zM45 148h3v1h-3zM225 148h3v1h-3zM3 149h2v1h-2zM48 149h6v1h-6zM222 149h3v1h-3zM54 150h3v1h-3zM219 150h3v1h-3zM57 151h3v1h-3zM216 151h3v1h-3zM60 152h6v1h-6zM210 152h6v1h-6zM66 153h3v1h-3zM207 153h3v1h-3zM69 154h6v1h-6zM204 154h3v1h-3zM75 155h6v1h-6zM198 155h6v1h-6zM81 156h6v1h-6zM195 156h3v1h-3zM87 157h3v1h-3zM192 157h3v1h-3zM90 158h6v1h-6zM186 158h6v1h-6zM96 159h3v1h-3zM183 159h3v1h-3zM99 160h3v1h-3zM180 160h3v1h-3zM102 161h3v1h-3zM177 161h3v1h-3zM105 162h5v1h-5zM172 162h5v1h-5zM110 163h2v1h-2zM167 163h5v1h-5zM112 164h3v1h-3zM161 164h6v1h-6zM115 165h5v1h-5zM155 165h6v1h-6zM120 166h2v1h-2zM149 166h6v1h-6zM122 167h5v1h-5zM144 167h5v1h-5zM127 168h17v1h-17z"/>
<path fill="#0000cd" d="M605 80h20v1h-20zM600 81h5v1h-5zM625 81h3v1h-3zM595 82h5v1h-5zM628 82h3v1h-3zM592 83h3v1h-3zM631 83h1v1h-1zM590 84h2v1h-2zM587 85h3v1h-3zM585 86h2v1h-2zM582 87h3v1h-3zM580 88h2v1h-2zM577 89h3v1h-3zM575 90h2v1h-2zM572 91h3v1h-3zM570 92h2v1h-2zM565 93h5v1h-5zM562 94h3v1h-3zM545 95h17v1h-17zM540 96h5v1h-5zM535 97h5v1h-5zM532 98h3v1h-3zM530 99h2v1h-2zM522 100h8v1h-8zM520 101h2v1h-2zM517 102h3v1h-3zM515 103h2v1h-2zM512 104h3v1h-3zM323 105h16v1h-16zM510 105h2v1h-2zM312 106h11v1h-11zM339 106h43v1h-43zM507 106h3v1h-3zM297 107h15v1h-15zM382 107h8v1h-8zM505 107h2v1h-2zM290 108h7v1h-7zM390 108h5v1h-5zM502 108h3v1h-3zM280 109h10v1h-10zM395 109h5v1h-5zM500 109h2v1h-2zM275 110h5v1h-5zM400 110h5v1h-5zM497 110h3v1h-3zM272 111h3v1h-3zM405 111h2v1h-2zM495 111h2v1h-2zM270 112h2v1h-2zM407 112h3v1h-3zM492 112h3v1h-3zM267 113h3v1h-3zM410 113h2v1h-2zM483 113h9v1h-9zM265 114h2v1h-2zM412 114h3v1h-3zM477 114h6v1h-6zM12 115h13v1h-13zM262 115h3v1h-3zM415 115h2v1h-2zM458 115h19v1h-19zM9 116h3v1h-3zM25 116h2v1h-2zM260 116h2v1h-2zM417 116h3v1h-3zM455 116h3v1h-3zM7 117h2v1h-2zM27 117h3v1h-3zM259 117h1v1h-1zM420 117h2v1h-2zM452 117h3v1h-3zM6 118h1v1h-1zM30 118h5v1h-5zM257 118h2v1h-2zM422 118h3v1h-3zM447 118h5v1h-5zM5 119h1v1h-1zM35 119h2v1h-2zM255 119h2v1h-2zM425 119h2v1h-2zM444 119h3v1h-3zM3 120h2v1h-2zM37 120h3v1h-3zM253 120h2v1h-2zM427 120h5v1h-5zM437 120h7v1h-7zM40 121h2v1h-2zM251 121h2v1h-2zM432 121h5v1h-5zM42 122h2v1h-2zM250 122h1v1h-1zM44 123h1v1h-1zM247 123h3v1h-3zM45 124h1v1h-1zM245 124h2v1h-2zM46 125h2v1h-2zM243 125h2v1h-2zM48 126h1v1h-1zM241 126h2v1h-2zM49 127h1v1h-1zM240 127h1v1h-1zM50 128h2v1h-2zM237 128h3v1h-3zM52 129h2v1h-2zM235 129h2v1h-2zM54 130h1v1h-1zM232 130h3v1h-3zM55 131h1v1h-1zM230 131h2v1h-2zM56 132h2v1h-2zM229 132h1v1h-1zM58 133h1v1h-1zM227 133h2v1h-2zM59 134h1v1h-1zM225 134h2v1h-2zM60 135h2v1h-2zM223 135h2v1h-2zM62 136h2v1h-2zM221 136h2v1h-2zM64 137h1v1h-1zM220 137h1v1h-1zM65 138h2v1h-2zM218 138h2v1h-2zM67 139h3v1h-3zM216 139h2v1h-2zM70 140h2v1h-2zM215 140h1v1h-1zM72 141h2v1h-2zM214 141h1v1h-1zM74 142h1v1h-1zM212 142h2v1h-2zM75 143h2v1h-2zM210 143h2v1h-2zM77 144h3v1h-3zM209 144h1v1h-1zM80 145h2v1h-2zM207 145h2v1h-2zM82 146h3v1h-3zM205 146h2v1h-2zM85 147h1v1h-1zM203 147h2v1h-2zM86 148h2v1h-2zM201 148h2v1h-2zM88 149h2v1h-2zM200 149h1v1h-1zM90 150h2v1h-2zM197 150h3v1h-3zM92 151h2v1h-2zM195 151h2v1h-2zM94 152h1v1h-1zM192 152h3v1h-3zM95 153h2v1h-2zM190 153h2v1h-2zM97 154h2v1h-2zM188 154h2v1h-2zM99 155h1v1h-1zM186 155h2v1h-2zM100 156h1v1h-1zM182 156h4v1h-4zM101 157h2v1h-2zM180 157h2v1h-2zM103 158h2v1h-2zM177 158h3v1h-3zM105 159h1v1h-1zM175 159h2v1h-2zM106 160h2v1h-2zM167 160h8v1h-8zM108 161h1v1h-1zM165 161h2v1h-2zM109 162h1v1h-1zM162 162h3v1h-3zM110 163h2v1h-2zM160 163h2v1h-2zM112 164h3v1h-3zM157 164h3v1h-3zM115 165h1v1h-1zM154 165h3v1h-3zM116 166h2v1h-2zM152 166h2v1h-2zM118 167h2v1h-2zM151 167h1v1h-1zM120 168h2v1h-2zM149 168h2v1h-2zM122 169h3v1h-3zM147 169h2v1h-2zM125 170h2v1h-2zM145 170h2v1h-2zM127 171h18v1h-18z"/>
<path fill="#00ced1" d="M610 110h22v1h-22zM601 111h31v1h-31zM589 112h22v1h-22zM571 113h31v1h-31zM531 114h59v1h-59zM502 115h70v1h-70zM491 116h41v1h-41zM478 117h25v1h-25zM471 118h21v1h-21zM464 119h15v1h-15zM456 120h16v1h-16zM451 121h14v1h-14zM449 122h8v1h-8zM444 123h8v1h-8zM436 124h14v1h-14zM426 125h19v1h-19zM421 126h16v1h-16zM414 127h13v1h-13zM406 128h16v1h-16zM401 129h14v1h-14zM396 130h11v1h-11zM391 131h11v1h-11zM389 132h8v1h-8zM384 133h8v1h-8zM381 134h9v1h-9zM376 135h9v1h-9zM371 136h11v1h-11zM364 137h13v1h-13zM361 138h11v1h-11zM356 139h9v1h-9zM354 140h8v1h-8zM351 141h6v1h-6zM346 142h9v1h-9zM344 143h8v1h-8zM341 144h6v1h-6zM336 145h9v1h-9zM334 146h8v1h-8zM331 147h6v1h-6zM325 148h10v1h-10zM316 149h16v1h-16zM313 150h13v1h-13zM310 151h7v1h-7zM307 152h7v1h-7zM304 153h7v1h-7zM301 154h7v1h-7zM298 155h7v1h-7zM296 156h6v1h-6zM294 157h5v1h-5zM292 158h5v1h-5zM289 159h6v1h-6zM287 160h6v1h-6zM285 161h5v1h-5zM283 162h5v1h-5zM280 163h6v1h-6zM274 164h10v1h-10zM272 165h9v1h-9zM270 166h5v1h-5zM268 167h5v1h-5zM265 168h6v1h-6zM262 169h7v1h-7zM260 170h6v1h-6zM258 171h5v1h-5zM256 172h5v1h-5zM253 173h6v1h-6zM250 174h7v1h-7zM248 175h6v1h-6zM246 176h5v1h-5zM244 177h5v1h-5zM241 178h6v1h-6zM238 179h7v1h-7zM236 180h6v1h-6zM234 181h5v1h-5zM232 182h5v1h-5zM229 183h6v1h-6zM227 184h6v1h-6zM225 185h5v1h-5zM223 186h5v1h-5zM220 187h6v1h-6zM3 188h28v1h-28zM214 188h10v1h-10zM3 189h29v1h-29zM211 189h10v1h-10zM30 190h41v1h-41zM208 190h7v1h-7zM31 191h51v1h-51zM202 191h10v1h-10zM70 192h20v1h-20zM196 192h13v1h-13zM81 193h14v1h-14zM190 193h13v1h-13zM89 194h11v1h-11zM184 194h13v1h-13zM94 195h9v1h-9zM175 195h16v1h-16zM99 196h7v1h-7zM166 196h19v1h-19zM102 197h12v1h-12zM154 197h22v1h-22zM105 198h29v1h-29zM136 198h31v1h-31zM113 199h42v1h-42zM133 200h4v1h-4z"/>
<path fill="#000" d="M3 97h1v24h-1zM2 102h3v6h-3zM7 83h1v28h-1zM6 102h3v3h-3zM11 87h1v27h-1zM10 90h3v16h-3zM15 85h1v21h-1zM14 90h3v8h-3zM19 89h1v28h-1zM18 98h3v19h-3zM23 113h1v35h-1zM22 115h3v32h-3zM27 140h1v24h-1zM26 144h3v10h-3zM31 136h1v21h-1zM30 139h3v15h-3zM35 136h1v27h-1zM34 141h3v11h-3zM39 145h1v28h-1zM38 148h3v21h-3zM43 161h1v31h-1zM42 167h3v18h-3zM47 176h1v36h-1zM46 183h3v28h-3zM51 205h1v14h-1zM50 209h3v7h-3zM55 209h1v24h-1zM54 213h3v6h-3zM59 206h1v16h-1zM58 212h3v5h-3zM63 180h1v38h-1zM62 192h3v25h-3zM67 187h1v22h-1zM66 192h3v13h-3zM71 203h1v32h-1zM70 203h3v32h-3zM75 211h1v28h-1zM74 216h3v20h-3zM79 185h1v35h-1zM78 189h3v30h-3zM83 184h1v22h-1zM82 189h3v14h-3zM87 188h1v27h-1zM86 202h3v9h-3zM91 207h1v28h-1zM90 208h3v26h-3zM95 221h1v22h-1zM94 224h3v10h-3zM99 221h1v32h-1zM98 224h3v23h-3zM103 231h1v26h-1zM102 236h3v11h-3zM107 211h1v32h-1zM106 224h3v13h-3zM111 220h1v45h-1zM110 224h3v40h-3zM115 257h1v26h-1zM114 263h3v4h-3zM119 233h1v35h-1zM118 238h3v25h-3zM123 224h1v18h-1zM122 233h3v6h-3zM127 210h1v37h-1zM126 231h3v3h-3zM131 173h1v63h-1zM130 181h3v52h-3zM135 157h1v39h-1zM134 159h3v22h-3zM139 136h1v28h-1zM138 149h3v15h-3zM143 137h1v17h-1zM142 149h3v2h-3zM147 109h1v43h-1zM146 110h3v42h-3zM151 105h1v21h-1zM150 110h3v5h-3zM155 95h1v23h-1zM154 112h3v3h-3zM159 100h1v19h-1zM158 111h3v5h-3zM163 95h1v22h-1zM162 110h3v5h-3zM167 105h1v19h-1zM166 113h3v9h-3zM171 110h1v32h-1zM170 120h3v6h-3zM175 107h1v23h-1zM174 114h3v12h-3zM179 111h1v35h-1zM178 116h3v21h-3zM183 116h1v25h-1zM182 118h3v18h-3zM187 96h1v27h-1zM186 97h3v23h-3zM191 86h1v27h-1zM190 95h3v4h-3zM195 85h1v15h-1zM194 92h3v6h-3zM199 84h1v20h-1zM198 96h3v2h-3zM203 88h1v17h-1zM202 95h3v5h-3zM207 80h1v23h-1zM206 86h3v15h-3zM211 67h1v31h-1zM210 81h3v7h-3zM215 63h1v30h-1zM214 81h3v11h-3zM219 64h1v28h-1zM218 67h3v22h-3zM223 51h1v21h-1zM222 52h3v16h-3zM227 32h1v29h-1zM226 40h3v14h-3zM231 37h1v41h-1zM230 40h3v27h-3zM235 54h1v37h-1zM234 60h3v6h-3zM239 44h1v24h-1zM238 55h3v8h-3zM243 50h1v17h-1zM242 55h3v11h-3zM247 58h1v40h-1zM246 64h3v4h-3zM251 43h1v30h-1zM250 49h3v21h-3zM255 36h1v21h-1zM254 49h3v7h-3zM259 25h1v32h-1zM258 26h3v29h-3zM263 17h1v32h-1zM262 26h3v21h-3zM267 28h1v30h-1zM266 46h3v4h-3zM271 39h1v21h-1zM270 48h3v2h-3zM275 36h1v45h-1zM274 49h3v31h-3zM279 70h1v41h-1zM278 78h3v28h-3zM283 94h1v24h-1zM282 98h3v9h-3zM287 94h1v16h-1zM286 98h3v4h-3zM291 94h1v19h-1zM290 101h3v2h-3zM295 84h1v23h-1zM294 90h3v14h-3zM299 78h1v20h-1zM298 84h3v8h-3zM303 74h1v15h-1zM302 84h3v4h-3zM307 72h1v39h-1zM306 84h3v23h-3zM311 93h1v21h-1zM310 96h3v12h-3zM315 73h1v26h-1zM314 81h3v17h-3zM319 75h1v21h-1zM318 84h3v4h-3zM323 79h1v29h-1zM322 86h3v3h-3zM327 71h1v22h-1zM326 87h3v4h-3zM331 80h1v45h-1zM330 86h3v28h-3zM335 101h1v26h-1zM334 113h3v11h-3zM339 117h1v20h-1zM338 117h3v4h-3zM343 103h1v36h-1zM342 106h3v15h-3zM347 91h1v26h-1zM346 105h3v3h-3zM351 96h1v17h-1zM350 103h3v3h-3zM355 80h1v28h-1zM354 86h3v19h-3zM359 81h1v30h-1zM358 87h3v23h-3zM363 103h1v20h-1zM362 110h3v4h-3zM367 95h1v24h-1zM366 101h3v13h-3zM371 95h1v54h-1zM370 100h3v33h-3zM375 94h1v46h-1zM374 98h3v35h-3zM379 97h1v44h-1zM378 104h3v35h-3zM383 92h1v52h-1zM382 97h3v38h-3zM387 95h1v54h-1zM386 97h3v36h-3zM391 126h1v46h-1zM390 131h3v20h-3zM395 132h1v22h-1zM394 141h3v5h-3zM399 110h1v60h-1zM398 121h3v40h-3zM403 117h1v30h-1zM402 120h3v18h-3zM407 117h1v29h-1zM406 135h3v2h-3zM411 134h1v39h-1zM410 135h3v34h-3zM415 150h1v22h-1zM414 161h3v9h-3zM419 158h1v40h-1zM418 162h3v32h-3zM423 145h1v59h-1zM422 146h3v47h-3zM427 140h1v21h-1zM426 146h3v5h-3zM431 144h1v23h-1zM430 144h3v21h-3zM435 123h1v44h-1zM434 131h3v33h-3zM439 116h1v19h-1zM438 120h3v13h-3zM443 96h1v29h-1zM442 103h3v18h-3zM447 94h1v13h-1zM446 96h3v9h-3zM451 81h1v20h-1zM450 88h3v11h-3zM455 81h1v14h-1zM454 88h3v2h-3zM459 80h1v25h-1zM458 88h3v12h-3zM463 85h1v21h-1zM462 91h3v13h-3zM467 87h1v23h-1zM466 92h3v16h-3zM471 105h1v15h-1zM470 107h3v7h-3zM475 94h1v25h-1zM474 100h3v15h-3zM479 77h1v31h-1zM478 101h3v2h-3zM483 96h1v23h-1zM482 101h3v3h-3zM487 92h1v21h-1zM486 97h3v8h-3zM491 78h1v23h-1zM490 87h3v12h-3zM495 66h1v24h-1zM494 77h3v11h-3zM499 63h1v21h-1zM498 67h3v10h-3zM503 62h1v13h-1zM502 67h3v2h-3zM507 64h1v15h-1zM506 68h3v9h-3zM511 31h1v51h-1zM510 58h3v17h-3zM515 33h1v28h-1zM514 47h3v12h-3zM519 33h1v23h-1zM518 34h3v13h-3zM523 31h1v26h-1zM522 34h3v22h-3zM527 35h1v23h-1zM526 53h3v3h-3zM531 52h1v13h-1zM530 52h3v7h-3zM535 48h1v28h-1zM534 55h3v20h-3zM539 66h1v19h-1zM538 72h3v3h-3zM543 65h1v13h-1zM542 72h3v4h-3zM547 64h1v18h-1zM546 72h3v4h-3zM551 69h1v16h-1zM550 72h3v3h-3zM555 67h1v16h-1zM554 71h3v10h-3zM559 68h1v26h-1zM558 69h3v12h-3zM563 68h1v41h-1zM562 69h3v18h-3zM567 70h1v22h-1zM566 80h3v7h-3zM571 66h1v20h-1zM570 80h3v5h-3zM575 50h1v37h-1zM574 55h3v26h-3zM579 50h1v12h-1zM578 54h3v5h-3zM583 19h1v42h-1zM582 24h3v31h-3zM587 22h1v23h-1zM586 24h3v18h-3zM591 38h1v6h-1zM590 40h3v3h-3zM595 21h1v23h-1zM594 28h3v12h-3zM599 24h1v24h-1zM598 28h3v14h-3zM603 37h1v28h-1zM602 40h3v21h-3zM607 53h1v11h-1zM606 58h3v3h-3zM611 51h1v21h-1zM610 58h3v9h-3zM615 64h1v5h-1zM614 64h3v4h-3zM619 63h1v15h-1zM618 66h3v5h-3zM623 68h1v16h-1zM622 69h3v11h-3zM627 71h1v54h-1zM626 79h3v39h-3zM631 111h1v9h-1zM630 113h3v4h-3z"/>
<path fill="#fff" d="M3 103h1v4h-1zM11 91h1v14h-1zM31 140h1v13h-1zM63 193h1v23h-1zM75 217h1v18h-1zM79 190h1v28h-1zM95 225h1v8h-1zM103 237h1v9h-1zM107 225h1v11h-1zM119 239h1v23h-1zM123 234h1v4h-1zM127 232h1v1h-1zM131 182h1v50h-1zM135 160h1v20h-1zM139 150h1v13h-1zM147 111h1v40h-1zM159 112h1v3h-1zM175 115h1v10h-1zM183 119h1v16h-1zM187 98h1v21h-1zM191 96h1v2h-1zM195 93h1v4h-1zM207 87h1v13h-1zM211 82h1v5h-1zM219 68h1v20h-1zM223 53h1v14h-1zM227 41h1v12h-1zM235 61h1v4h-1zM239 56h1v6h-1zM251 50h1v19h-1zM259 27h1v27h-1zM283 99h1v7h-1zM295 91h1v12h-1zM299 85h1v6h-1zM303 85h1v2h-1zM311 97h1v10h-1zM315 82h1v15h-1zM327 88h1v2h-1zM343 107h1v13h-1zM351 104h1v1h-1zM355 87h1v17h-1zM367 102h1v11h-1zM375 99h1v33h-1zM383 98h1v36h-1zM395 142h1v3h-1zM399 122h1v38h-1zM415 162h1v7h-1zM423 147h1v45h-1zM435 132h1v31h-1zM439 121h1v11h-1zM443 104h1v16h-1zM447 97h1v7h-1zM451 89h1v9h-1zM475 101h1v13h-1zM487 98h1v6h-1zM491 88h1v10h-1zM495 78h1v9h-1zM499 68h1v8h-1zM511 59h1v15h-1zM515 48h1v10h-1zM519 35h1v11h-1zM543 73h1v2h-1zM559 70h1v10h-1zM567 81h1v5h-1zM571 81h1v3h-1zM575 56h1v24h-1zM579 55h1v3h-1zM583 25h1v29h-1zM591 41h1v1h-1zM595 29h1v10h-1zM631 114h1v2h-1z"/>
<path fill="#000" d="M659 143h2v1h-2zM655 144h6v1h-6zM652 145h9v1h-9zM648 146h11v1h-11zM644 147h11v1h-11zM640 148h12v1h-12zM636 149h12v1h-12zM632 150h12v1h-12zM628 151h12v1h-12zM624 152h12v1h-12zM620 153h12v1h-12zM616 154h12v1h-12zM612 155h12v1h-12zM608 156h12v1h-12zM605 157h11v1h-11zM601 158h11v1h-11zM597 159h11v1h-11zM593 160h12v1h-12zM589 161h12v1h-12zM585 162h12v1h-12zM581 163h12v1h-12zM577 164h12v1h-12zM573 165h12v1h-12zM569 166h12v1h-12zM565 167h12v1h-12zM561 168h12v1h-12zM558 169h11v1h-11zM554 170h11v1h-11zM550 171h11v1h-11zM546 172h12v1h-12zM542 173h12v1h-12zM538 174h12v1h-12zM534 175h12v1h-12zM530 176h12v1h-12zM526 177h12v1h-12zM522 178h12v1h-12zM518 179h12v1h-12zM514 180h12v1h-12zM511 181h11v1h-11zM507 182h11v1h-11zM503 183h11v1h-11zM499 184h12v1h-12zM495 185h12v1h-12zM491 186h12v1h-12zM487 187h12v1h-12zM483 188h12v1h-12zM479 189h12v1h-12zM475 190h12v1h-12zM471 191h12v1h-12zM467 192h12v1h-12zM464 193h11v1h-11zM460 194h11v1h-11zM456 195h11v1h-11zM452 196h12v1h-12zM448 197h12v1h-12zM444 198h12v1h-12zM440 199h12v1h-12zM436 200h12v1h-12zM432 201h12v1h-12zM428 202h12v1h-12zM424 203h12v1h-12zM420 204h12v1h-12zM417 205h11v1h-11zM413 206h11v1h-11zM409 207h11v1h-11zM405 208h12v1h-12zM401 209h12v1h-12zM397 210h12v1h-12zM393 211h12v1h-12zM389 212h12v1h-12zM385 213h12v1h-12zM381 214h12v1h-12zM377 215h12v1h-12zM373 216h12v1h-12zM370 217h11v1h-11zM366 218h11v1h-11zM362 219h11v1h-11zM358 220h12v1h-12zM354 221h12v1h-12zM350 222h12v1h-12zM346 223h12v1h-12zM342 224h12v1h-12zM338 225h12v1h-12zM334 226h12v1h-12zM330 227h12v1h-12zM326 228h12v1h-12zM323 229h11v1h-11zM319 230h11v1h-11zM315 231h11v1h-11zM311 232h12v1h-12zM307 233h12v1h-12zM303 234h12v1h-12zM299 235h12v1h-12zM295 236h12v1h-12zM291 237h12v1h-12zM287 238h12v1h-12zM283 239h12v1h-12zM279 240h12v1h-12zM276 241h11v1h-11zM272 242h11v1h-11zM268 243h11v1h-11zM264 244h12v1h-12zM260 245h12v1h-12zM256 246h12v1h-12zM252 247h12v1h-12zM248 248h12v1h-12zM244 249h12v1h-12zM240 250h12v1h-12zM236 251h12v1h-12zM232 252h12v1h-12zM229 253h11v1h-11zM225 254h11v1h-11zM221 255h11v1h-11zM217 256h12v1h-12zM213 257h12v1h-12zM209 258h12v1h-12zM205 259h12v1h-12zM201 260h12v1h-12zM197 261h12v1h-12zM193 262h12v1h-12zM189 263h12v1h-12zM185 264h12v1h-12zM182 265h11v1h-11zM178 266h11v1h-11zM174 267h11v1h-11zM170 268h12v1h-12zM166 269h12v1h-12zM162 270h12v1h-12zM158 271h12v1h-12zM154 272h12v1h-12zM150 273h12v1h-12zM146 274h12v1h-12zM142 275h12v1h-12zM138 276h12v1h-12zM134 277h12v1h-12zM131 278h11v1h-11zM127 279h11v1h-11zM123 280h11v1h-11zM119 281h12v1h-12zM115 282h12v1h-12zM111 283h12v1h-12zM107 284h12v1h-12zM103 285h12v1h-12zM99 286h12v1h-12zM95 287h12v1h-12zM91 288h12v1h-12zM87 289h12v1h-12zM85 290h10v1h-10zM85 291h6v1h-6z"/>
<path fill="#32cd32" d="M283 318h15v1h-15zM278 319h5v1h-5zM298 319h5v1h-5zM275 320h3v1h-3zM303 320h5v1h-5zM273 321h2v1h-2zM308 321h3v1h-3zM270 322h3v1h-3zM311 322h3v1h-3zM267 323h3v1h-3zM314 323h3v1h-3zM262 324h5v1h-5zM317 324h3v1h-3zM260 325h2v1h-2zM320 325h6v1h-6zM257 326h3v1h-3zM326 326h6v1h-6zM255 327h2v1h-2zM332 327h3v1h-3zM252 328h3v1h-3zM335 328h3v1h-3zM250 329h2v1h-2zM338 329h3v1h-3zM247 330h3v1h-3zM341 330h6v1h-6zM245 331h2v1h-2zM347 331h3v1h-3zM600 331h28v1h-28zM244 332h1v1h-1zM350 332h6v1h-6zM590 332h10v1h-10zM628 332h4v1h-4zM242 333h2v1h-2zM356 333h3v1h-3zM585 333h5v1h-5zM240 334h2v1h-2zM359 334h3v1h-3zM580 334h5v1h-5zM238 335h2v1h-2zM362 335h3v1h-3zM575 335h5v1h-5zM236 336h2v1h-2zM365 336h3v1h-3zM567 336h8v1h-8zM235 337h1v1h-1zM368 337h3v1h-3zM562 337h5v1h-5zM232 338h3v1h-3zM371 338h3v1h-3zM555 338h7v1h-7zM230 339h2v1h-2zM374 339h3v1h-3zM547 339h8v1h-8zM228 340h2v1h-2zM377 340h3v1h-3zM540 340h7v1h-7zM226 341h2v1h-2zM380 341h3v1h-3zM537 341h3v1h-3zM3 342h11v1h-11zM225 342h1v1h-1zM383 342h6v1h-6zM532 342h5v1h-5zM14 343h18v1h-18zM222 343h3v1h-3zM389 343h3v1h-3zM530 343h2v1h-2zM32 344h9v1h-9zM220 344h2v1h-2zM392 344h3v1h-3zM525 344h5v1h-5zM41 345h6v1h-6zM218 345h2v1h-2zM395 345h2v1h-2zM522 345h3v1h-3zM47 346h3v1h-3zM216 346h2v1h-2zM397 346h5v1h-5zM515 346h7v1h-7zM50 347h3v1h-3zM215 347h1v1h-1zM402 347h3v1h-3zM507 347h8v1h-8zM53 348h3v1h-3zM212 348h3v1h-3zM405 348h2v1h-2zM502 348h5v1h-5zM56 349h6v1h-6zM210 349h2v1h-2zM407 349h3v1h-3zM500 349h2v1h-2zM62 350h3v1h-3zM208 350h2v1h-2zM410 350h5v1h-5zM495 350h5v1h-5zM65 351h3v1h-3zM206 351h2v1h-2zM415 351h2v1h-2zM487 351h8v1h-8zM68 352h3v1h-3zM205 352h1v1h-1zM417 352h5v1h-5zM480 352h7v1h-7zM71 353h3v1h-3zM202 353h3v1h-3zM422 353h3v1h-3zM472 353h8v1h-8zM74 354h2v1h-2zM200 354h2v1h-2zM425 354h5v1h-5zM460 354h12v1h-12zM76 355h2v1h-2zM198 355h2v1h-2zM430 355h5v1h-5zM445 355h15v1h-15zM78 356h2v1h-2zM196 356h2v1h-2zM435 356h10v1h-10zM80 357h3v1h-3zM195 357h1v1h-1zM83 358h3v1h-3zM192 358h3v1h-3zM86 359h3v1h-3zM190 359h2v1h-2zM89 360h6v1h-6zM187 360h3v1h-3zM95 361h3v1h-3zM182 361h5v1h-5zM98 362h3v1h-3zM180 362h2v1h-2zM101 363h6v1h-6zM177 363h3v1h-3zM107 364h3v1h-3zM172 364h5v1h-5zM110 365h9v1h-9zM170 365h2v1h-2zM119 366h8v1h-8zM165 366h5v1h-5zM127 367h8v1h-8zM157 367h8v1h-8zM135 368h22v1h-22z"/>
<path fill="#00ffff" d="M228 309h3v1h-3zM225 310h3v1h-3zM231 310h8v1h-8zM223 311h2v1h-2zM239 311h5v1h-5zM221 312h2v1h-2zM244 312h5v1h-5zM219 313h2v1h-2zM249 313h6v1h-6zM173 314h5v1h-5zM217 314h2v1h-2zM255 314h5v1h-5zM168 315h5v1h-5zM178 315h5v1h-5zM215 315h2v1h-2zM260 315h3v1h-3zM165 316h3v1h-3zM183 316h3v1h-3zM212 316h3v1h-3zM263 316h2v1h-2zM163 317h2v1h-2zM186 317h5v1h-5zM209 317h3v1h-3zM265 317h3v1h-3zM162 318h1v1h-1zM191 318h18v1h-18zM268 318h1v1h-1zM525 318h6v1h-6zM161 319h1v1h-1zM269 319h2v1h-2zM523 319h2v1h-2zM531 319h3v1h-3zM160 320h1v1h-1zM271 320h2v1h-2zM521 320h2v1h-2zM534 320h1v1h-1zM159 321h1v1h-1zM273 321h2v1h-2zM519 321h2v1h-2zM535 321h1v1h-1zM159 322h1v1h-1zM275 322h1v1h-1zM518 322h1v1h-1zM536 322h1v1h-1zM158 323h1v1h-1zM276 323h1v1h-1zM516 323h2v1h-2zM537 323h1v1h-1zM157 324h1v1h-1zM277 324h1v1h-1zM515 324h1v1h-1zM538 324h2v1h-2zM157 325h1v1h-1zM278 325h1v1h-1zM514 325h1v1h-1zM540 325h2v1h-2zM156 326h1v1h-1zM279 326h1v1h-1zM513 326h1v1h-1zM542 326h2v1h-2zM605 326h3v1h-3zM156 327h1v1h-1zM280 327h1v1h-1zM511 327h2v1h-2zM544 327h1v1h-1zM602 327h3v1h-3zM608 327h2v1h-2zM155 328h1v1h-1zM280 328h1v1h-1zM510 328h1v1h-1zM545 328h2v1h-2zM600 328h2v1h-2zM610 328h2v1h-2zM155 329h1v1h-1zM281 329h1v1h-1zM508 329h2v1h-2zM547 329h1v1h-1zM598 329h2v1h-2zM612 329h1v1h-1zM154 330h1v1h-1zM282 330h1v1h-1zM506 330h2v1h-2zM548 330h2v1h-2zM595 330h3v1h-3zM613 330h2v1h-2zM154 331h1v1h-1zM283 331h1v1h-1zM504 331h2v1h-2zM550 331h1v1h-1zM593 331h2v1h-2zM615 331h1v1h-1zM153 332h1v1h-1zM284 332h1v1h-1zM502 332h2v1h-2zM551 332h1v1h-1zM591 332h2v1h-2zM616 332h1v1h-1zM153 333h1v1h-1zM285 333h1v1h-1zM501 333h1v1h-1zM552 333h1v1h-1zM590 333h1v1h-1zM617 333h1v1h-1zM152 334h1v1h-1zM286 334h1v1h-1zM499 334h2v1h-2zM553 334h1v1h-1zM588 334h2v1h-2zM618 334h1v1h-1zM151 335h1v1h-1zM287 335h1v1h-1zM472 335h5v1h-5zM496 335h3v1h-3zM554 335h2v1h-2zM586 335h2v1h-2zM619 335h1v1h-1zM150 336h1v1h-1zM288 336h1v1h-1zM466 336h6v1h-6zM477 336h11v1h-11zM494 336h2v1h-2zM556 336h1v1h-1zM584 336h2v1h-2zM619 336h1v1h-1zM150 337h1v1h-1zM288 337h1v1h-1zM463 337h3v1h-3zM488 337h6v1h-6zM557 337h2v1h-2zM582 337h2v1h-2zM620 337h1v1h-1zM149 338h1v1h-1zM289 338h1v1h-1zM461 338h2v1h-2zM559 338h2v1h-2zM581 338h1v1h-1zM621 338h1v1h-1zM149 339h1v1h-1zM290 339h1v1h-1zM460 339h1v1h-1zM561 339h2v1h-2zM579 339h2v1h-2zM621 339h1v1h-1zM148 340h1v1h-1zM291 340h1v1h-1zM459 340h1v1h-1zM563 340h2v1h-2zM578 340h1v1h-1zM622 340h1v1h-1zM148 341h1v1h-1zM292 341h1v1h-1zM457 341h2v1h-2zM565 341h2v1h-2zM576 341h2v1h-2zM623 341h1v1h-1zM3 342h4v1h-4zM147 342h1v1h-1zM293 342h1v1h-1zM456 342h1v1h-1zM567 342h3v1h-3zM574 342h2v1h-2zM624 342h1v1h-1zM7 343h2v1h-2zM147 343h1v1h-1zM294 343h1v1h-1zM455 343h1v1h-1zM570 343h4v1h-4zM625 343h1v1h-1zM9 344h10v1h-10zM146 344h1v1h-1zM295 344h1v1h-1zM454 344h1v1h-1zM625 344h1v1h-1zM19 345h1v1h-1zM145 345h1v1h-1zM296 345h1v1h-1zM453 345h1v1h-1zM626 345h1v1h-1zM20 346h2v1h-2zM145 346h1v1h-1zM297 346h1v1h-1zM452 346h1v1h-1zM627 346h1v1h-1zM22 347h1v1h-1zM144 347h1v1h-1zM298 347h1v1h-1zM451 347h1v1h-1zM627 347h1v1h-1zM23 348h1v1h-1zM143 348h1v1h-1zM299 348h2v1h-2zM450 348h1v1h-1zM628 348h1v1h-1zM24 349h1v1h-1zM143 349h1v1h-1zM301 349h2v1h-2zM323 349h7v1h-7zM449 349h1v1h-1zM629 349h1v1h-1zM25 350h2v1h-2zM142 350h1v1h-1zM303 350h2v1h-2zM320 350h3v1h-3zM330 350h1v1h-1zM448 350h1v1h-1zM629 350h1v1h-1zM27 351h1v1h-1zM142 351h1v1h-1zM305 351h2v1h-2zM317 351h3v1h-3zM331 351h2v1h-2zM447 351h1v1h-1zM630 351h1v1h-1zM28 352h1v1h-1zM141 352h1v1h-1zM307 352h1v1h-1zM315 352h2v1h-2zM333 352h1v1h-1zM447 352h1v1h-1zM631 352h1v1h-1zM29 353h1v1h-1zM141 353h1v1h-1zM308 353h2v1h-2zM312 353h3v1h-3zM334 353h2v1h-2zM446 353h1v1h-1zM30 354h2v1h-2zM140 354h1v1h-1zM310 354h2v1h-2zM336 354h2v1h-2zM375 354h13v1h-13zM445 354h1v1h-1zM32 355h1v1h-1zM140 355h1v1h-1zM338 355h3v1h-3zM354 355h11v1h-11zM373 355h2v1h-2zM388 355h2v1h-2zM444 355h1v1h-1zM33 356h2v1h-2zM139 356h1v1h-1zM341 356h13v1h-13zM365 356h8v1h-8zM390 356h5v1h-5zM405 356h3v1h-3zM442 356h2v1h-2zM35 357h1v1h-1zM138 357h1v1h-1zM395 357h10v1h-10zM408 357h5v1h-5zM441 357h1v1h-1zM36 358h1v1h-1zM137 358h1v1h-1zM413 358h2v1h-2zM440 358h1v1h-1zM36 359h1v1h-1zM137 359h1v1h-1zM415 359h2v1h-2zM438 359h2v1h-2zM37 360h1v1h-1zM136 360h1v1h-1zM417 360h1v1h-1zM427 360h11v1h-11zM38 361h1v1h-1zM135 361h1v1h-1zM418 361h2v1h-2zM425 361h2v1h-2zM39 362h1v1h-1zM135 362h1v1h-1zM420 362h5v1h-5zM40 363h1v1h-1zM134 363h1v1h-1zM41 364h1v1h-1zM133 364h1v1h-1zM41 365h1v1h-1zM132 365h1v1h-1zM42 366h1v1h-1zM131 366h1v1h-1zM42 367h1v1h-1zM131 367h1v1h-1zM43 368h1v1h-1zM130 368h1v1h-1zM43 369h1v1h-1zM128 369h2v1h-2zM44 370h1v1h-1zM127 370h1v1h-1zM45 371h1v1h-1zM125 371h2v1h-2zM45 372h1v1h-1zM105 372h6v1h-6zM123 372h2v1h-2zM46 373h1v1h-1zM102 373h3v1h-3zM111 373h3v1h-3zM120 373h3v1h-3zM46 374h1v1h-1zM96 374h6v1h-6zM114 374h6v1h-6zM47 375h1v1h-1zM93 375h3v1h-3zM47 376h1v1h-1zM91 376h2v1h-2zM48 377h1v1h-1zM89 377h2v1h-2zM49 378h1v1h-1zM88 378h1v1h-1zM49 379h1v1h-1zM87 379h1v1h-1zM50 380h1v1h-1zM86 380h1v1h-1zM51 381h1v1h-1zM85 381h1v1h-1zM52 382h1v1h-1zM83 382h2v1h-2zM53 383h2v1h-2zM82 383h1v1h-1zM55 384h1v1h-1zM80 384h2v1h-2zM56 385h2v1h-2zM78 385h2v1h-2zM58 386h2v1h-2zM75 386h3v1h-3zM60 387h3v1h-3zM72 387h3v1h-3z"/>
<path fill="#dc143c" d="M226 296h2v1h-2zM225 297h3v1h-3zM224 298h4v1h-4zM224 299h5v1h-5zM223 300h3v1h-3zM227 300h2v1h-2zM222 301h3v1h-3zM227 301h2v1h-2zM221 302h3v1h-3zM227 302h2v1h-2zM220 303h3v1h-3zM227 303h2v1h-2zM220 304h2v1h-2zM227 304h3v1h-3zM219 305h3v1h-3zM228 305h2v1h-2zM518 305h2v1h-2zM218 306h3v1h-3zM228 306h2v1h-2zM258 306h2v1h-2zM517 306h3v1h-3zM218 307h2v1h-2zM228 307h2v1h-2zM258 307h2v1h-2zM516 307h4v1h-4zM217 308h3v1h-3zM228 308h2v1h-2zM257 308h4v1h-4zM516 308h5v1h-5zM582 308h2v1h-2zM146 309h14v1h-14zM210 309h2v1h-2zM217 309h2v1h-2zM228 309h3v1h-3zM257 309h4v1h-4zM515 309h3v1h-3zM519 309h2v1h-2zM582 309h2v1h-2zM146 310h16v1h-16zM208 310h4v1h-4zM217 310h2v1h-2zM229 310h2v1h-2zM256 310h5v1h-5zM514 310h3v1h-3zM519 310h2v1h-2zM582 310h3v1h-3zM145 311h3v1h-3zM159 311h4v1h-4zM194 311h2v1h-2zM206 311h7v1h-7zM216 311h3v1h-3zM229 311h2v1h-2zM256 311h2v1h-2zM259 311h2v1h-2zM513 311h3v1h-3zM519 311h2v1h-2zM581 311h4v1h-4zM145 312h2v1h-2zM161 312h3v1h-3zM192 312h5v1h-5zM205 312h4v1h-4zM211 312h2v1h-2zM216 312h2v1h-2zM229 312h2v1h-2zM256 312h2v1h-2zM259 312h3v1h-3zM513 312h2v1h-2zM519 312h3v1h-3zM581 312h4v1h-4zM145 313h2v1h-2zM162 313h3v1h-3zM189 313h9v1h-9zM204 313h3v1h-3zM211 313h3v1h-3zM215 313h3v1h-3zM229 313h2v1h-2zM255 313h3v1h-3zM260 313h2v1h-2zM512 313h3v1h-3zM520 313h2v1h-2zM581 313h5v1h-5zM144 314h3v1h-3zM163 314h3v1h-3zM186 314h7v1h-7zM196 314h3v1h-3zM204 314h2v1h-2zM212 314h2v1h-2zM215 314h2v1h-2zM229 314h3v1h-3zM237 314h3v1h-3zM250 314h3v1h-3zM255 314h2v1h-2zM260 314h2v1h-2zM511 314h3v1h-3zM520 314h2v1h-2zM581 314h2v1h-2zM584 314h2v1h-2zM144 315h2v1h-2zM164 315h3v1h-3zM174 315h2v1h-2zM185 315h5v1h-5zM197 315h5v1h-5zM203 315h3v1h-3zM212 315h5v1h-5zM230 315h2v1h-2zM233 315h8v1h-8zM249 315h8v1h-8zM260 315h2v1h-2zM511 315h2v1h-2zM520 315h2v1h-2zM580 315h3v1h-3zM584 315h2v1h-2zM143 316h3v1h-3zM165 316h3v1h-3zM173 316h3v1h-3zM185 316h2v1h-2zM198 316h7v1h-7zM213 316h4v1h-4zM230 316h8v1h-8zM239 316h2v1h-2zM249 316h2v1h-2zM252 316h4v1h-4zM260 316h3v1h-3zM510 316h3v1h-3zM520 316h3v1h-3zM580 316h2v1h-2zM584 316h2v1h-2zM594 316h2v1h-2zM143 317h2v1h-2zM166 317h4v1h-4zM172 317h5v1h-5zM184 317h3v1h-3zM201 317h3v1h-3zM213 317h3v1h-3zM230 317h4v1h-4zM239 317h3v1h-3zM248 317h3v1h-3zM254 317h2v1h-2zM261 317h2v1h-2zM510 317h2v1h-2zM521 317h2v1h-2zM580 317h2v1h-2zM584 317h3v1h-3zM593 317h3v1h-3zM143 318h2v1h-2zM167 318h7v1h-7zM175 318h2v1h-2zM184 318h2v1h-2zM214 318h2v1h-2zM240 318h2v1h-2zM248 318h2v1h-2zM261 318h2v1h-2zM501 318h3v1h-3zM509 318h3v1h-3zM521 318h2v1h-2zM580 318h2v1h-2zM585 318h2v1h-2zM592 318h5v1h-5zM142 319h3v1h-3zM169 319h4v1h-4zM175 319h2v1h-2zM183 319h3v1h-3zM240 319h3v1h-3zM247 319h3v1h-3zM261 319h2v1h-2zM498 319h7v1h-7zM509 319h2v1h-2zM521 319h2v1h-2zM579 319h3v1h-3zM585 319h2v1h-2zM592 319h2v1h-2zM595 319h2v1h-2zM141 320h3v1h-3zM170 320h2v1h-2zM175 320h2v1h-2zM183 320h2v1h-2zM241 320h2v1h-2zM247 320h2v1h-2zM261 320h3v1h-3zM497 320h5v1h-5zM503 320h2v1h-2zM508 320h3v1h-3zM521 320h3v1h-3zM579 320h2v1h-2zM585 320h3v1h-3zM591 320h3v1h-3zM595 320h2v1h-2zM138 321h6v1h-6zM175 321h3v1h-3zM182 321h3v1h-3zM241 321h8v1h-8zM262 321h10v1h-10zM496 321h3v1h-3zM503 321h3v1h-3zM508 321h2v1h-2zM522 321h4v1h-4zM579 321h2v1h-2zM586 321h7v1h-7zM595 321h3v1h-3zM137 322h5v1h-5zM176 322h2v1h-2zM182 322h2v1h-2zM242 322h6v1h-6zM262 322h10v1h-10zM496 322h2v1h-2zM504 322h2v1h-2zM507 322h3v1h-3zM522 322h6v1h-6zM579 322h2v1h-2zM586 322h6v1h-6zM596 322h2v1h-2zM136 323h3v1h-3zM176 323h2v1h-2zM181 323h3v1h-3zM270 323h2v1h-2zM495 323h3v1h-3zM504 323h5v1h-5zM525 323h4v1h-4zM578 323h3v1h-3zM596 323h3v1h-3zM135 324h3v1h-3zM176 324h2v1h-2zM181 324h2v1h-2zM270 324h3v1h-3zM494 324h3v1h-3zM505 324h4v1h-4zM527 324h3v1h-3zM578 324h2v1h-2zM597 324h2v1h-2zM134 325h3v1h-3zM176 325h3v1h-3zM180 325h3v1h-3zM271 325h2v1h-2zM493 325h3v1h-3zM505 325h3v1h-3zM528 325h2v1h-2zM578 325h2v1h-2zM597 325h2v1h-2zM133 326h3v1h-3zM177 326h2v1h-2zM180 326h2v1h-2zM271 326h2v1h-2zM492 326h3v1h-3zM506 326h2v1h-2zM528 326h3v1h-3zM576 326h4v1h-4zM597 326h3v1h-3zM133 327h2v1h-2zM177 327h5v1h-5zM271 327h2v1h-2zM492 327h2v1h-2zM529 327h3v1h-3zM574 327h5v1h-5zM598 327h2v1h-2zM132 328h3v1h-3zM177 328h4v1h-4zM271 328h2v1h-2zM453 328h3v1h-3zM491 328h3v1h-3zM530 328h2v1h-2zM574 328h3v1h-3zM598 328h2v1h-2zM132 329h2v1h-2zM177 329h4v1h-4zM271 329h3v1h-3zM450 329h7v1h-7zM490 329h3v1h-3zM530 329h3v1h-3zM574 329h2v1h-2zM598 329h3v1h-3zM131 330h3v1h-3zM178 330h2v1h-2zM272 330h2v1h-2zM448 330h6v1h-6zM455 330h3v1h-3zM489 330h3v1h-3zM531 330h2v1h-2zM573 330h3v1h-3zM599 330h2v1h-2zM131 331h2v1h-2zM178 331h2v1h-2zM272 331h2v1h-2zM446 331h5v1h-5zM456 331h2v1h-2zM488 331h3v1h-3zM531 331h2v1h-2zM573 331h2v1h-2zM599 331h2v1h-2zM130 332h3v1h-3zM272 332h2v1h-2zM444 332h5v1h-5zM456 332h3v1h-3zM461 332h3v1h-3zM488 332h2v1h-2zM531 332h3v1h-3zM573 332h2v1h-2zM599 332h2v1h-2zM130 333h2v1h-2zM272 333h2v1h-2zM442 333h5v1h-5zM457 333h7v1h-7zM487 333h3v1h-3zM532 333h2v1h-2zM573 333h2v1h-2zM599 333h3v1h-3zM130 334h2v1h-2zM272 334h3v1h-3zM441 334h4v1h-4zM458 334h7v1h-7zM486 334h3v1h-3zM532 334h3v1h-3zM572 334h3v1h-3zM600 334h2v1h-2zM10 335h2v1h-2zM130 335h2v1h-2zM273 335h2v1h-2zM441 335h2v1h-2zM463 335h2v1h-2zM485 335h3v1h-3zM533 335h2v1h-2zM572 335h2v1h-2zM600 335h2v1h-2zM10 336h3v1h-3zM130 336h2v1h-2zM273 336h2v1h-2zM440 336h3v1h-3zM463 336h3v1h-3zM483 336h4v1h-4zM533 336h2v1h-2zM572 336h2v1h-2zM600 336h2v1h-2zM9 337h5v1h-5zM129 337h3v1h-3zM273 337h2v1h-2zM440 337h2v1h-2zM464 337h2v1h-2zM474 337h12v1h-12zM533 337h3v1h-3zM558 337h2v1h-2zM572 337h2v1h-2zM600 337h3v1h-3zM9 338h2v1h-2zM12 338h3v1h-3zM129 338h2v1h-2zM273 338h2v1h-2zM439 338h3v1h-3zM464 338h3v1h-3zM473 338h11v1h-11zM534 338h4v1h-4zM541 338h5v1h-5zM557 338h3v1h-3zM572 338h2v1h-2zM601 338h2v1h-2zM9 339h2v1h-2zM13 339h3v1h-3zM129 339h2v1h-2zM273 339h3v1h-3zM354 339h2v1h-2zM439 339h2v1h-2zM465 339h2v1h-2zM472 339h3v1h-3zM534 339h18v1h-18zM557 339h4v1h-4zM571 339h3v1h-3zM601 339h2v1h-2zM8 340h3v1h-3zM14 340h2v1h-2zM129 340h2v1h-2zM274 340h2v1h-2zM354 340h2v1h-2zM438 340h3v1h-3zM465 340h4v1h-4zM472 340h2v1h-2zM537 340h5v1h-5zM545 340h8v1h-8zM556 340h5v1h-5zM571 340h2v1h-2zM601 340h2v1h-2zM8 341h2v1h-2zM14 341h3v1h-3zM129 341h2v1h-2zM274 341h2v1h-2zM353 341h3v1h-3zM437 341h3v1h-3zM466 341h8v1h-8zM551 341h2v1h-2zM556 341h2v1h-2zM559 341h2v1h-2zM571 341h2v1h-2zM601 341h3v1h-3zM3 342h1v1h-1zM7 342h3v1h-3zM15 342h2v1h-2zM129 342h2v1h-2zM274 342h2v1h-2zM314 342h2v1h-2zM353 342h4v1h-4zM437 342h2v1h-2zM468 342h5v1h-5zM551 342h3v1h-3zM555 342h3v1h-3zM559 342h3v1h-3zM571 342h2v1h-2zM602 342h6v1h-6zM3 343h2v1h-2zM7 343h2v1h-2zM15 343h2v1h-2zM128 343h3v1h-3zM274 343h2v1h-2zM313 343h4v1h-4zM353 343h4v1h-4zM436 343h3v1h-3zM470 343h2v1h-2zM552 343h5v1h-5zM560 343h2v1h-2zM570 343h3v1h-3zM602 343h7v1h-7zM3 344h3v1h-3zM7 344h2v1h-2zM15 344h2v1h-2zM128 344h2v1h-2zM274 344h3v1h-3zM313 344h5v1h-5zM353 344h4v1h-4zM382 344h2v1h-2zM435 344h3v1h-3zM553 344h4v1h-4zM560 344h2v1h-2zM570 344h2v1h-2zM607 344h3v1h-3zM4 345h5v1h-5zM15 345h3v1h-3zM128 345h2v1h-2zM275 345h2v1h-2zM298 345h6v1h-6zM312 345h3v1h-3zM316 345h3v1h-3zM352 345h5v1h-5zM374 345h2v1h-2zM382 345h2v1h-2zM435 345h2v1h-2zM553 345h3v1h-3zM560 345h2v1h-2zM569 345h3v1h-3zM608 345h2v1h-2zM5 346h3v1h-3zM16 346h2v1h-2zM128 346h2v1h-2zM275 346h2v1h-2zM297 346h7v1h-7zM312 346h2v1h-2zM317 346h11v1h-11zM352 346h2v1h-2zM355 346h3v1h-3zM374 346h2v1h-2zM382 346h3v1h-3zM434 346h3v1h-3zM554 346h2v1h-2zM560 346h3v1h-3zM566 346h6v1h-6zM608 346h3v1h-3zM6 347h2v1h-2zM16 347h2v1h-2zM128 347h2v1h-2zM275 347h2v1h-2zM296 347h3v1h-3zM302 347h3v1h-3zM311 347h3v1h-3zM318 347h10v1h-10zM352 347h2v1h-2zM356 347h2v1h-2zM374 347h2v1h-2zM381 347h4v1h-4zM434 347h2v1h-2zM561 347h2v1h-2zM565 347h5v1h-5zM609 347h5v1h-5zM16 348h2v1h-2zM128 348h2v1h-2zM275 348h2v1h-2zM296 348h2v1h-2zM303 348h2v1h-2zM311 348h2v1h-2zM326 348h2v1h-2zM351 348h3v1h-3zM356 348h2v1h-2zM373 348h4v1h-4zM381 348h4v1h-4zM433 348h3v1h-3zM561 348h2v1h-2zM564 348h3v1h-3zM610 348h6v1h-6zM16 349h3v1h-3zM128 349h2v1h-2zM275 349h3v1h-3zM295 349h3v1h-3zM303 349h2v1h-2zM310 349h3v1h-3zM326 349h3v1h-3zM351 349h2v1h-2zM356 349h2v1h-2zM366 349h2v1h-2zM373 349h4v1h-4zM381 349h5v1h-5zM433 349h2v1h-2zM561 349h5v1h-5zM613 349h5v1h-5zM17 350h2v1h-2zM127 350h3v1h-3zM276 350h2v1h-2zM294 350h3v1h-3zM303 350h2v1h-2zM310 350h2v1h-2zM327 350h2v1h-2zM351 350h2v1h-2zM356 350h3v1h-3zM365 350h3v1h-3zM373 350h4v1h-4zM381 350h2v1h-2zM384 350h2v1h-2zM398 350h2v1h-2zM433 350h2v1h-2zM562 350h3v1h-3zM615 350h4v1h-4zM17 351h2v1h-2zM127 351h2v1h-2zM276 351h2v1h-2zM293 351h3v1h-3zM303 351h3v1h-3zM310 351h2v1h-2zM327 351h2v1h-2zM351 351h2v1h-2zM357 351h2v1h-2zM365 351h3v1h-3zM373 351h4v1h-4zM381 351h2v1h-2zM384 351h2v1h-2zM398 351h3v1h-3zM432 351h3v1h-3zM562 351h2v1h-2zM617 351h3v1h-3zM17 352h2v1h-2zM127 352h2v1h-2zM276 352h2v1h-2zM293 352h2v1h-2zM304 352h2v1h-2zM309 352h3v1h-3zM327 352h2v1h-2zM350 352h3v1h-3zM357 352h2v1h-2zM364 352h5v1h-5zM373 352h4v1h-4zM380 352h3v1h-3zM384 352h2v1h-2zM397 352h4v1h-4zM432 352h2v1h-2zM618 352h3v1h-3zM17 353h3v1h-3zM127 353h2v1h-2zM276 353h3v1h-3zM292 353h3v1h-3zM304 353h2v1h-2zM309 353h2v1h-2zM327 353h3v1h-3zM350 353h2v1h-2zM357 353h2v1h-2zM364 353h2v1h-2zM367 353h2v1h-2zM373 353h5v1h-5zM380 353h2v1h-2zM384 353h3v1h-3zM397 353h5v1h-5zM422 353h6v1h-6zM432 353h2v1h-2zM619 353h2v1h-2zM18 354h2v1h-2zM127 354h2v1h-2zM277 354h2v1h-2zM292 354h2v1h-2zM304 354h3v1h-3zM308 354h3v1h-3zM328 354h2v1h-2zM348 354h4v1h-4zM357 354h3v1h-3zM363 354h3v1h-3zM367 354h2v1h-2zM372 354h3v1h-3zM376 354h2v1h-2zM380 354h2v1h-2zM385 354h2v1h-2zM396 354h3v1h-3zM400 354h3v1h-3zM422 354h7v1h-7zM431 354h3v1h-3zM619 354h3v1h-3zM18 355h2v1h-2zM127 355h2v1h-2zM277 355h2v1h-2zM291 355h3v1h-3zM305 355h2v1h-2zM308 355h2v1h-2zM328 355h2v1h-2zM342 355h9v1h-9zM358 355h2v1h-2zM363 355h2v1h-2zM367 355h2v1h-2zM372 355h2v1h-2zM376 355h2v1h-2zM380 355h2v1h-2zM385 355h2v1h-2zM396 355h2v1h-2zM401 355h2v1h-2zM422 355h2v1h-2zM427 355h3v1h-3zM431 355h2v1h-2zM620 355h2v1h-2zM18 356h2v1h-2zM126 356h3v1h-3zM277 356h2v1h-2zM291 356h2v1h-2zM305 356h5v1h-5zM328 356h2v1h-2zM342 356h7v1h-7zM358 356h7v1h-7zM367 356h3v1h-3zM372 356h2v1h-2zM376 356h2v1h-2zM380 356h2v1h-2zM385 356h3v1h-3zM396 356h2v1h-2zM401 356h5v1h-5zM421 356h3v1h-3zM428 356h2v1h-2zM431 356h2v1h-2zM620 356h3v1h-3zM18 357h3v1h-3zM126 357h2v1h-2zM277 357h2v1h-2zM282 357h11v1h-11zM305 357h4v1h-4zM328 357h3v1h-3zM341 357h3v1h-3zM358 357h6v1h-6zM368 357h2v1h-2zM372 357h2v1h-2zM376 357h6v1h-6zM386 357h2v1h-2zM395 357h3v1h-3zM402 357h6v1h-6zM421 357h2v1h-2zM428 357h5v1h-5zM621 357h2v1h-2zM19 358h2v1h-2zM126 358h2v1h-2zM277 358h3v1h-3zM281 358h11v1h-11zM305 358h4v1h-4zM329 358h2v1h-2zM341 358h2v1h-2zM361 358h3v1h-3zM368 358h2v1h-2zM372 358h2v1h-2zM377 358h4v1h-4zM386 358h3v1h-3zM395 358h2v1h-2zM405 358h3v1h-3zM421 358h2v1h-2zM429 358h3v1h-3zM621 358h3v1h-3zM19 359h2v1h-2zM78 359h2v1h-2zM126 359h2v1h-2zM278 359h5v1h-5zM306 359h2v1h-2zM329 359h2v1h-2zM341 359h2v1h-2zM368 359h2v1h-2zM371 359h3v1h-3zM377 359h4v1h-4zM387 359h2v1h-2zM394 359h3v1h-3zM406 359h3v1h-3zM421 359h2v1h-2zM430 359h2v1h-2zM622 359h2v1h-2zM19 360h2v1h-2zM78 360h3v1h-3zM124 360h4v1h-4zM278 360h4v1h-4zM306 360h2v1h-2zM329 360h2v1h-2zM340 360h3v1h-3zM368 360h2v1h-2zM371 360h2v1h-2zM377 360h4v1h-4zM387 360h3v1h-3zM394 360h2v1h-2zM407 360h2v1h-2zM421 360h2v1h-2zM622 360h2v1h-2zM19 361h3v1h-3zM78 361h4v1h-4zM122 361h5v1h-5zM278 361h2v1h-2zM329 361h3v1h-3zM340 361h2v1h-2zM368 361h5v1h-5zM377 361h4v1h-4zM388 361h3v1h-3zM393 361h3v1h-3zM407 361h2v1h-2zM421 361h2v1h-2zM622 361h3v1h-3zM20 362h2v1h-2zM77 362h5v1h-5zM121 362h4v1h-4zM330 362h2v1h-2zM339 362h3v1h-3zM369 362h4v1h-4zM377 362h4v1h-4zM389 362h6v1h-6zM407 362h3v1h-3zM420 362h3v1h-3zM623 362h2v1h-2zM20 363h2v1h-2zM77 363h2v1h-2zM80 363h3v1h-3zM119 363h4v1h-4zM330 363h2v1h-2zM339 363h2v1h-2zM369 363h4v1h-4zM378 363h2v1h-2zM389 363h5v1h-5zM408 363h2v1h-2zM420 363h2v1h-2zM623 363h2v1h-2zM20 364h2v1h-2zM77 364h2v1h-2zM81 364h3v1h-3zM118 364h4v1h-4zM330 364h3v1h-3zM339 364h2v1h-2zM369 364h4v1h-4zM378 364h2v1h-2zM390 364h2v1h-2zM408 364h3v1h-3zM420 364h2v1h-2zM623 364h2v1h-2zM20 365h3v1h-3zM77 365h2v1h-2zM82 365h3v1h-3zM118 365h2v1h-2zM331 365h2v1h-2zM338 365h3v1h-3zM369 365h4v1h-4zM378 365h2v1h-2zM409 365h2v1h-2zM420 365h2v1h-2zM623 365h2v1h-2zM21 366h2v1h-2zM30 366h2v1h-2zM76 366h3v1h-3zM83 366h3v1h-3zM106 366h2v1h-2zM118 366h2v1h-2zM331 366h3v1h-3zM338 366h2v1h-2zM370 366h2v1h-2zM409 366h2v1h-2zM414 366h2v1h-2zM420 366h2v1h-2zM623 366h2v1h-2zM21 367h2v1h-2zM30 367h3v1h-3zM76 367h2v1h-2zM84 367h3v1h-3zM105 367h3v1h-3zM117 367h3v1h-3zM332 367h3v1h-3zM337 367h3v1h-3zM370 367h2v1h-2zM409 367h7v1h-7zM419 367h3v1h-3zM623 367h3v1h-3zM21 368h2v1h-2zM29 368h4v1h-4zM76 368h2v1h-2zM85 368h3v1h-3zM105 368h4v1h-4zM117 368h2v1h-2zM333 368h6v1h-6zM370 368h2v1h-2zM410 368h7v1h-7zM419 368h2v1h-2zM624 368h2v1h-2zM21 369h3v1h-3zM29 369h5v1h-5zM76 369h2v1h-2zM86 369h2v1h-2zM104 369h5v1h-5zM117 369h2v1h-2zM333 369h5v1h-5zM410 369h3v1h-3zM415 369h2v1h-2zM419 369h2v1h-2zM624 369h2v1h-2zM22 370h2v1h-2zM29 370h2v1h-2zM32 370h2v1h-2zM76 370h2v1h-2zM86 370h3v1h-3zM104 370h2v1h-2zM107 370h2v1h-2zM117 370h2v1h-2zM334 370h2v1h-2zM415 370h3v1h-3zM419 370h2v1h-2zM624 370h2v1h-2zM22 371h2v1h-2zM28 371h3v1h-3zM32 371h3v1h-3zM75 371h3v1h-3zM87 371h2v1h-2zM103 371h3v1h-3zM107 371h2v1h-2zM116 371h3v1h-3zM416 371h2v1h-2zM419 371h2v1h-2zM624 371h2v1h-2zM22 372h3v1h-3zM28 372h2v1h-2zM33 372h2v1h-2zM75 372h2v1h-2zM87 372h3v1h-3zM103 372h2v1h-2zM107 372h3v1h-3zM116 372h2v1h-2zM416 372h5v1h-5zM624 372h3v1h-3zM23 373h2v1h-2zM27 373h3v1h-3zM33 373h3v1h-3zM75 373h2v1h-2zM88 373h2v1h-2zM94 373h2v1h-2zM102 373h3v1h-3zM108 373h2v1h-2zM116 373h2v1h-2zM417 373h4v1h-4zM625 373h2v1h-2zM23 374h3v1h-3zM27 374h2v1h-2zM34 374h3v1h-3zM75 374h2v1h-2zM88 374h3v1h-3zM93 374h4v1h-4zM102 374h2v1h-2zM108 374h2v1h-2zM116 374h2v1h-2zM417 374h3v1h-3zM625 374h2v1h-2zM24 375h5v1h-5zM35 375h2v1h-2zM62 375h2v1h-2zM74 375h3v1h-3zM89 375h8v1h-8zM101 375h3v1h-3zM108 375h3v1h-3zM115 375h3v1h-3zM418 375h2v1h-2zM625 375h2v1h-2zM25 376h4v1h-4zM35 376h3v1h-3zM62 376h4v1h-4zM74 376h2v1h-2zM89 376h5v1h-5zM95 376h3v1h-3zM100 376h3v1h-3zM109 376h2v1h-2zM115 376h2v1h-2zM418 376h2v1h-2zM625 376h2v1h-2zM25 377h3v1h-3zM36 377h2v1h-2zM61 377h6v1h-6zM74 377h2v1h-2zM90 377h2v1h-2zM96 377h3v1h-3zM100 377h2v1h-2zM109 377h2v1h-2zM115 377h2v1h-2zM625 377h2v1h-2zM26 378h2v1h-2zM36 378h3v1h-3zM61 378h2v1h-2zM65 378h3v1h-3zM74 378h2v1h-2zM97 378h5v1h-5zM109 378h2v1h-2zM115 378h2v1h-2zM625 378h3v1h-3zM37 379h2v1h-2zM61 379h2v1h-2zM66 379h2v1h-2zM73 379h3v1h-3zM97 379h4v1h-4zM109 379h3v1h-3zM114 379h3v1h-3zM626 379h2v1h-2zM629 379h3v1h-3zM37 380h3v1h-3zM61 380h2v1h-2zM66 380h3v1h-3zM73 380h2v1h-2zM98 380h2v1h-2zM110 380h6v1h-6zM626 380h6v1h-6zM38 381h2v1h-2zM60 381h3v1h-3zM67 381h2v1h-2zM72 381h3v1h-3zM110 381h6v1h-6zM626 381h4v1h-4zM38 382h3v1h-3zM60 382h2v1h-2zM67 382h3v1h-3zM72 382h2v1h-2zM113 382h3v1h-3zM39 383h2v1h-2zM60 383h2v1h-2zM68 383h2v1h-2zM72 383h2v1h-2zM39 384h3v1h-3zM60 384h2v1h-2zM68 384h6v1h-6zM40 385h2v1h-2zM59 385h3v1h-3zM69 385h4v1h-4zM40 386h3v1h-3zM59 386h2v1h-2zM69 386h4v1h-4zM41 387h2v1h-2zM59 387h2v1h-2zM70 387h2v1h-2z"/>
<path fill="#32cd32" d="M242 422h13v1h-13zM232 423h10v1h-10zM255 423h10v1h-10zM222 424h10v1h-10zM265 424h5v1h-5zM212 425h10v1h-10zM270 425h3v1h-3zM205 426h7v1h-7zM273 426h2v1h-2zM197 427h8v1h-8zM275 427h3v1h-3zM192 428h5v1h-5zM278 428h2v1h-2zM187 429h5v1h-5zM280 429h1v1h-1zM522 429h25v1h-25zM182 430h5v1h-5zM281 430h2v1h-2zM515 430h7v1h-7zM547 430h13v1h-13zM180 431h2v1h-2zM283 431h3v1h-3zM507 431h8v1h-8zM560 431h20v1h-20zM175 432h5v1h-5zM286 432h3v1h-3zM505 432h2v1h-2zM580 432h22v1h-22zM172 433h3v1h-3zM289 433h2v1h-2zM497 433h8v1h-8zM602 433h13v1h-13zM167 434h5v1h-5zM291 434h3v1h-3zM490 434h7v1h-7zM615 434h5v1h-5zM162 435h5v1h-5zM294 435h5v1h-5zM475 435h15v1h-15zM620 435h3v1h-3zM4 436h16v1h-16zM160 436h2v1h-2zM299 436h23v1h-23zM467 436h8v1h-8zM623 436h3v1h-3zM20 437h9v1h-9zM157 437h3v1h-3zM322 437h8v1h-8zM455 437h12v1h-12zM626 437h3v1h-3zM29 438h6v1h-6zM155 438h2v1h-2zM330 438h5v1h-5zM447 438h8v1h-8zM629 438h3v1h-3zM35 439h3v1h-3zM152 439h3v1h-3zM335 439h3v1h-3zM442 439h5v1h-5zM38 440h3v1h-3zM150 440h2v1h-2zM338 440h8v1h-8zM435 440h7v1h-7zM41 441h3v1h-3zM145 441h5v1h-5zM346 441h7v1h-7zM427 441h8v1h-8zM44 442h3v1h-3zM140 442h5v1h-5zM353 442h40v1h-40zM402 442h25v1h-25zM47 443h3v1h-3zM137 443h3v1h-3zM393 443h9v1h-9zM50 444h3v1h-3zM93 444h14v1h-14zM132 444h5v1h-5zM53 445h5v1h-5zM83 445h10v1h-10zM107 445h9v1h-9zM127 445h5v1h-5zM58 446h2v1h-2zM78 446h5v1h-5zM116 446h11v1h-11zM60 447h18v1h-18z"/>
<path fill="#40e0d0" d="M169 411h6v1h-6zM167 412h2v1h-2zM175 412h5v1h-5zM164 413h3v1h-3zM180 413h3v1h-3zM161 414h3v1h-3zM183 414h2v1h-2zM159 415h2v1h-2zM185 415h3v1h-3zM158 416h1v1h-1zM188 416h2v1h-2zM157 417h1v1h-1zM190 417h1v1h-1zM155 418h2v1h-2zM191 418h2v1h-2zM154 419h1v1h-1zM193 419h2v1h-2zM153 420h1v1h-1zM195 420h2v1h-2zM152 421h1v1h-1zM197 421h2v1h-2zM151 422h1v1h-1zM199 422h1v1h-1zM528 422h6v1h-6zM150 423h1v1h-1zM200 423h2v1h-2zM525 423h3v1h-3zM534 423h3v1h-3zM149 424h1v1h-1zM202 424h2v1h-2zM523 424h2v1h-2zM537 424h3v1h-3zM148 425h1v1h-1zM204 425h3v1h-3zM469 425h16v1h-16zM520 425h3v1h-3zM540 425h2v1h-2zM147 426h1v1h-1zM207 426h1v1h-1zM227 426h13v1h-13zM466 426h3v1h-3zM485 426h12v1h-12zM517 426h3v1h-3zM542 426h2v1h-2zM146 427h1v1h-1zM208 427h2v1h-2zM224 427h3v1h-3zM240 427h3v1h-3zM463 427h3v1h-3zM497 427h10v1h-10zM512 427h5v1h-5zM544 427h1v1h-1zM145 428h1v1h-1zM210 428h2v1h-2zM221 428h3v1h-3zM243 428h10v1h-10zM461 428h2v1h-2zM507 428h5v1h-5zM545 428h2v1h-2zM144 429h1v1h-1zM212 429h9v1h-9zM253 429h11v1h-11zM458 429h3v1h-3zM547 429h1v1h-1zM143 430h1v1h-1zM264 430h3v1h-3zM456 430h2v1h-2zM548 430h2v1h-2zM142 431h1v1h-1zM267 431h2v1h-2zM454 431h2v1h-2zM550 431h1v1h-1zM14 432h8v1h-8zM141 432h1v1h-1zM269 432h2v1h-2zM453 432h1v1h-1zM551 432h1v1h-1zM607 432h6v1h-6zM11 433h3v1h-3zM22 433h2v1h-2zM139 433h2v1h-2zM271 433h1v1h-1zM451 433h2v1h-2zM552 433h1v1h-1zM604 433h3v1h-3zM613 433h3v1h-3zM9 434h2v1h-2zM24 434h1v1h-1zM137 434h2v1h-2zM272 434h1v1h-1zM449 434h2v1h-2zM553 434h1v1h-1zM601 434h3v1h-3zM616 434h3v1h-3zM7 435h2v1h-2zM25 435h1v1h-1zM135 435h2v1h-2zM273 435h1v1h-1zM447 435h2v1h-2zM554 435h2v1h-2zM599 435h2v1h-2zM619 435h2v1h-2zM6 436h1v1h-1zM26 436h2v1h-2zM132 436h3v1h-3zM274 436h2v1h-2zM445 436h2v1h-2zM556 436h1v1h-1zM597 436h2v1h-2zM621 436h2v1h-2zM4 437h2v1h-2zM28 437h1v1h-1zM129 437h3v1h-3zM276 437h1v1h-1zM397 437h6v1h-6zM444 437h1v1h-1zM557 437h2v1h-2zM596 437h1v1h-1zM623 437h1v1h-1zM29 438h2v1h-2zM127 438h2v1h-2zM277 438h2v1h-2zM391 438h6v1h-6zM403 438h2v1h-2zM442 438h2v1h-2zM559 438h1v1h-1zM594 438h2v1h-2zM624 438h2v1h-2zM31 439h2v1h-2zM124 439h3v1h-3zM279 439h1v1h-1zM362 439h13v1h-13zM378 439h13v1h-13zM405 439h3v1h-3zM440 439h2v1h-2zM560 439h2v1h-2zM593 439h1v1h-1zM626 439h1v1h-1zM33 440h1v1h-1zM111 440h13v1h-13zM280 440h1v1h-1zM357 440h5v1h-5zM375 440h3v1h-3zM408 440h3v1h-3zM435 440h5v1h-5zM562 440h1v1h-1zM591 440h2v1h-2zM627 440h2v1h-2zM34 441h2v1h-2zM108 441h3v1h-3zM281 441h2v1h-2zM354 441h3v1h-3zM411 441h2v1h-2zM427 441h8v1h-8zM563 441h2v1h-2zM590 441h1v1h-1zM629 441h2v1h-2zM36 442h1v1h-1zM105 442h3v1h-3zM283 442h2v1h-2zM349 442h5v1h-5zM413 442h14v1h-14zM565 442h1v1h-1zM588 442h2v1h-2zM631 442h1v1h-1zM37 443h2v1h-2zM103 443h2v1h-2zM285 443h2v1h-2zM343 443h6v1h-6zM566 443h2v1h-2zM587 443h1v1h-1zM39 444h1v1h-1zM102 444h1v1h-1zM287 444h2v1h-2zM338 444h5v1h-5zM568 444h1v1h-1zM585 444h2v1h-2zM40 445h1v1h-1zM100 445h2v1h-2zM289 445h2v1h-2zM335 445h3v1h-3zM569 445h2v1h-2zM583 445h2v1h-2zM41 446h1v1h-1zM97 446h3v1h-3zM291 446h6v1h-6zM327 446h8v1h-8zM571 446h2v1h-2zM580 446h3v1h-3zM42 447h2v1h-2zM95 447h2v1h-2zM297 447h7v1h-7zM325 447h2v1h-2zM573 447h7v1h-7zM44 448h1v1h-1zM94 448h1v1h-1zM304 448h21v1h-21zM45 449h2v1h-2zM92 449h2v1h-2zM47 450h2v1h-2zM89 450h3v1h-3zM49 451h1v1h-1zM87 451h2v1h-2zM50 452h2v1h-2zM86 452h1v1h-1zM52 453h2v1h-2zM84 453h2v1h-2zM54 454h2v1h-2zM81 454h3v1h-3zM56 455h1v1h-1zM79 455h2v1h-2zM57 456h2v1h-2zM78 456h1v1h-1zM59 457h3v1h-3zM76 457h2v1h-2zM62 458h3v1h-3zM73 458h3v1h-3zM65 459h8v1h-8z"/>
<path fill="#ff00ff" d="M146 395h6v1h-6zM144 396h10v1h-10zM142 397h5v1h-5zM151 397h4v1h-4zM141 398h4v1h-4zM153 398h3v1h-3zM140 399h3v1h-3zM154 399h3v1h-3zM140 400h2v1h-2zM155 400h3v1h-3zM139 401h3v1h-3zM156 401h3v1h-3zM138 402h3v1h-3zM157 402h3v1h-3zM137 403h3v1h-3zM158 403h3v1h-3zM136 404h3v1h-3zM159 404h3v1h-3zM135 405h3v1h-3zM160 405h2v1h-2zM454 405h2v1h-2zM134 406h3v1h-3zM160 406h3v1h-3zM453 406h3v1h-3zM134 407h2v1h-2zM161 407h3v1h-3zM451 407h6v1h-6zM133 408h3v1h-3zM162 408h2v1h-2zM450 408h4v1h-4zM455 408h2v1h-2zM133 409h2v1h-2zM162 409h3v1h-3zM448 409h4v1h-4zM455 409h2v1h-2zM518 409h2v1h-2zM132 410h3v1h-3zM163 410h2v1h-2zM446 410h5v1h-5zM455 410h3v1h-3zM502 410h2v1h-2zM517 410h3v1h-3zM582 410h2v1h-2zM132 411h2v1h-2zM163 411h2v1h-2zM445 411h4v1h-4zM456 411h2v1h-2zM500 411h5v1h-5zM517 411h4v1h-4zM582 411h2v1h-2zM131 412h3v1h-3zM163 412h2v1h-2zM445 412h2v1h-2zM456 412h2v1h-2zM498 412h7v1h-7zM516 412h5v1h-5zM581 412h4v1h-4zM131 413h2v1h-2zM163 413h3v1h-3zM444 413h3v1h-3zM456 413h2v1h-2zM497 413h4v1h-4zM503 413h3v1h-3zM516 413h2v1h-2zM519 413h2v1h-2zM581 413h4v1h-4zM130 414h3v1h-3zM164 414h2v1h-2zM226 414h2v1h-2zM444 414h2v1h-2zM456 414h3v1h-3zM496 414h3v1h-3zM504 414h2v1h-2zM515 414h3v1h-3zM519 414h3v1h-3zM581 414h5v1h-5zM130 415h2v1h-2zM164 415h2v1h-2zM225 415h3v1h-3zM443 415h3v1h-3zM457 415h2v1h-2zM496 415h2v1h-2zM504 415h3v1h-3zM515 415h2v1h-2zM520 415h2v1h-2zM580 415h3v1h-3zM584 415h2v1h-2zM130 416h2v1h-2zM164 416h3v1h-3zM225 416h4v1h-4zM443 416h2v1h-2zM457 416h2v1h-2zM495 416h3v1h-3zM505 416h2v1h-2zM514 416h3v1h-3zM520 416h3v1h-3zM580 416h2v1h-2zM584 416h3v1h-3zM129 417h3v1h-3zM165 417h2v1h-2zM224 417h5v1h-5zM442 417h3v1h-3zM457 417h3v1h-3zM494 417h3v1h-3zM505 417h11v1h-11zM521 417h2v1h-2zM580 417h2v1h-2zM585 417h2v1h-2zM129 418h2v1h-2zM165 418h2v1h-2zM224 418h2v1h-2zM227 418h3v1h-3zM441 418h3v1h-3zM458 418h2v1h-2zM494 418h2v1h-2zM506 418h10v1h-10zM521 418h2v1h-2zM580 418h2v1h-2zM585 418h7v1h-7zM129 419h2v1h-2zM165 419h2v1h-2zM223 419h3v1h-3zM228 419h2v1h-2zM441 419h2v1h-2zM458 419h3v1h-3zM493 419h3v1h-3zM521 419h3v1h-3zM579 419h3v1h-3zM586 419h7v1h-7zM128 420h3v1h-3zM165 420h3v1h-3zM223 420h2v1h-2zM228 420h2v1h-2zM440 420h3v1h-3zM459 420h3v1h-3zM493 420h2v1h-2zM522 420h2v1h-2zM579 420h2v1h-2zM591 420h3v1h-3zM128 421h2v1h-2zM166 421h2v1h-2zM221 421h4v1h-4zM228 421h3v1h-3zM440 421h2v1h-2zM460 421h3v1h-3zM493 421h2v1h-2zM522 421h2v1h-2zM579 421h2v1h-2zM592 421h3v1h-3zM127 422h3v1h-3zM166 422h2v1h-2zM194 422h3v1h-3zM213 422h11v1h-11zM229 422h2v1h-2zM439 422h3v1h-3zM461 422h3v1h-3zM492 422h3v1h-3zM522 422h3v1h-3zM578 422h3v1h-3zM593 422h4v1h-4zM127 423h2v1h-2zM166 423h3v1h-3zM193 423h6v1h-6zM210 423h12v1h-12zM229 423h3v1h-3zM439 423h2v1h-2zM462 423h2v1h-2zM492 423h2v1h-2zM523 423h2v1h-2zM578 423h2v1h-2zM594 423h5v1h-5zM127 424h2v1h-2zM167 424h2v1h-2zM192 424h3v1h-3zM196 424h4v1h-4zM208 424h6v1h-6zM230 424h2v1h-2zM438 424h3v1h-3zM462 424h3v1h-3zM491 424h3v1h-3zM523 424h3v1h-3zM577 424h3v1h-3zM596 424h4v1h-4zM82 425h6v1h-6zM126 425h3v1h-3zM167 425h3v1h-3zM191 425h3v1h-3zM198 425h4v1h-4zM206 425h5v1h-5zM230 425h3v1h-3zM354 425h2v1h-2zM437 425h3v1h-3zM463 425h2v1h-2zM491 425h2v1h-2zM524 425h2v1h-2zM577 425h2v1h-2zM598 425h2v1h-2zM81 426h7v1h-7zM126 426h2v1h-2zM168 426h2v1h-2zM190 426h3v1h-3zM199 426h4v1h-4zM204 426h5v1h-5zM231 426h3v1h-3zM354 426h3v1h-3zM437 426h2v1h-2zM463 426h2v1h-2zM491 426h2v1h-2zM524 426h3v1h-3zM576 426h3v1h-3zM598 426h3v1h-3zM81 427h2v1h-2zM86 427h3v1h-3zM126 427h2v1h-2zM168 427h3v1h-3zM190 427h2v1h-2zM201 427h6v1h-6zM232 427h2v1h-2zM258 427h2v1h-2zM353 427h4v1h-4zM436 427h3v1h-3zM463 427h3v1h-3zM490 427h3v1h-3zM525 427h2v1h-2zM576 427h2v1h-2zM599 427h2v1h-2zM80 428h3v1h-3zM87 428h2v1h-2zM125 428h3v1h-3zM169 428h2v1h-2zM189 428h3v1h-3zM202 428h3v1h-3zM232 428h3v1h-3zM257 428h4v1h-4zM353 428h5v1h-5zM436 428h2v1h-2zM464 428h2v1h-2zM490 428h2v1h-2zM525 428h3v1h-3zM575 428h3v1h-3zM599 428h2v1h-2zM80 429h2v1h-2zM87 429h3v1h-3zM125 429h2v1h-2zM169 429h3v1h-3zM189 429h2v1h-2zM233 429h3v1h-3zM257 429h4v1h-4zM352 429h3v1h-3zM356 429h3v1h-3zM435 429h3v1h-3zM464 429h3v1h-3zM489 429h3v1h-3zM526 429h2v1h-2zM575 429h2v1h-2zM599 429h3v1h-3zM79 430h3v1h-3zM88 430h2v1h-2zM124 430h3v1h-3zM170 430h2v1h-2zM188 430h3v1h-3zM234 430h3v1h-3zM256 430h6v1h-6zM321 430h5v1h-5zM352 430h2v1h-2zM357 430h2v1h-2zM435 430h2v1h-2zM465 430h2v1h-2zM489 430h2v1h-2zM526 430h2v1h-2zM574 430h3v1h-3zM600 430h2v1h-2zM10 431h4v1h-4zM79 431h2v1h-2zM88 431h2v1h-2zM124 431h2v1h-2zM170 431h3v1h-3zM188 431h2v1h-2zM235 431h3v1h-3zM256 431h2v1h-2zM260 431h3v1h-3zM318 431h10v1h-10zM351 431h3v1h-3zM357 431h3v1h-3zM434 431h3v1h-3zM465 431h2v1h-2zM488 431h3v1h-3zM526 431h3v1h-3zM574 431h2v1h-2zM600 431h3v1h-3zM10 432h6v1h-6zM78 432h3v1h-3zM88 432h3v1h-3zM124 432h2v1h-2zM171 432h3v1h-3zM187 432h3v1h-3zM236 432h3v1h-3zM255 432h3v1h-3zM261 432h2v1h-2zM265 432h3v1h-3zM317 432h5v1h-5zM325 432h3v1h-3zM351 432h2v1h-2zM358 432h3v1h-3zM374 432h2v1h-2zM433 432h3v1h-3zM465 432h3v1h-3zM487 432h3v1h-3zM527 432h2v1h-2zM574 432h2v1h-2zM601 432h2v1h-2zM9 433h3v1h-3zM13 433h4v1h-4zM78 433h2v1h-2zM89 433h2v1h-2zM123 433h3v1h-3zM172 433h3v1h-3zM187 433h2v1h-2zM237 433h3v1h-3zM255 433h2v1h-2zM261 433h8v1h-8zM315 433h4v1h-4zM326 433h3v1h-3zM350 433h3v1h-3zM359 433h3v1h-3zM373 433h3v1h-3zM382 433h2v1h-2zM431 433h4v1h-4zM466 433h2v1h-2zM487 433h2v1h-2zM527 433h2v1h-2zM573 433h3v1h-3zM601 433h2v1h-2zM9 434h2v1h-2zM15 434h2v1h-2zM77 434h3v1h-3zM89 434h3v1h-3zM123 434h2v1h-2zM173 434h3v1h-3zM186 434h3v1h-3zM238 434h3v1h-3zM254 434h3v1h-3zM262 434h4v1h-4zM267 434h2v1h-2zM314 434h4v1h-4zM327 434h2v1h-2zM350 434h2v1h-2zM360 434h2v1h-2zM373 434h4v1h-4zM382 434h3v1h-3zM430 434h4v1h-4zM466 434h3v1h-3zM486 434h3v1h-3zM527 434h3v1h-3zM573 434h2v1h-2zM601 434h3v1h-3zM3 435h1v1h-1zM8 435h3v1h-3zM15 435h3v1h-3zM77 435h2v1h-2zM90 435h2v1h-2zM122 435h3v1h-3zM174 435h3v1h-3zM186 435h2v1h-2zM239 435h3v1h-3zM250 435h6v1h-6zM267 435h3v1h-3zM313 435h3v1h-3zM327 435h2v1h-2zM349 435h3v1h-3zM360 435h3v1h-3zM372 435h5v1h-5zM381 435h4v1h-4zM406 435h2v1h-2zM428 435h4v1h-4zM467 435h2v1h-2zM484 435h4v1h-4zM528 435h2v1h-2zM573 435h2v1h-2zM602 435h2v1h-2zM3 436h2v1h-2zM8 436h2v1h-2zM16 436h3v1h-3zM76 436h3v1h-3zM90 436h4v1h-4zM106 436h2v1h-2zM122 436h2v1h-2zM175 436h2v1h-2zM185 436h3v1h-3zM240 436h3v1h-3zM249 436h7v1h-7zM268 436h2v1h-2zM302 436h2v1h-2zM313 436h2v1h-2zM327 436h2v1h-2zM349 436h2v1h-2zM361 436h7v1h-7zM372 436h2v1h-2zM375 436h2v1h-2zM381 436h5v1h-5zM405 436h3v1h-3zM426 436h5v1h-5zM467 436h3v1h-3zM482 436h5v1h-5zM528 436h3v1h-3zM572 436h3v1h-3zM602 436h2v1h-2zM3 437h3v1h-3zM7 437h3v1h-3zM17 437h2v1h-2zM76 437h2v1h-2zM91 437h4v1h-4zM105 437h4v1h-4zM121 437h3v1h-3zM175 437h3v1h-3zM184 437h3v1h-3zM241 437h3v1h-3zM249 437h2v1h-2zM268 437h3v1h-3zM301 437h3v1h-3zM312 437h3v1h-3zM327 437h3v1h-3zM348 437h3v1h-3zM362 437h7v1h-7zM371 437h3v1h-3zM375 437h3v1h-3zM380 437h3v1h-3zM384 437h2v1h-2zM404 437h5v1h-5zM425 437h4v1h-4zM468 437h3v1h-3zM481 437h4v1h-4zM529 437h2v1h-2zM572 437h2v1h-2zM602 437h3v1h-3zM4 438h2v1h-2zM7 438h2v1h-2zM17 438h3v1h-3zM75 438h3v1h-3zM93 438h3v1h-3zM105 438h4v1h-4zM121 438h2v1h-2zM176 438h2v1h-2zM183 438h3v1h-3zM242 438h3v1h-3zM248 438h3v1h-3zM269 438h2v1h-2zM301 438h4v1h-4zM312 438h2v1h-2zM328 438h2v1h-2zM347 438h3v1h-3zM367 438h3v1h-3zM371 438h2v1h-2zM376 438h2v1h-2zM380 438h2v1h-2zM384 438h3v1h-3zM398 438h4v1h-4zM403 438h3v1h-3zM407 438h2v1h-2zM424 438h3v1h-3zM469 438h2v1h-2zM479 438h4v1h-4zM529 438h2v1h-2zM572 438h2v1h-2zM603 438h2v1h-2zM4 439h5v1h-5zM18 439h2v1h-2zM75 439h2v1h-2zM94 439h2v1h-2zM104 439h6v1h-6zM120 439h3v1h-3zM176 439h3v1h-3zM182 439h3v1h-3zM243 439h3v1h-3zM247 439h3v1h-3zM269 439h3v1h-3zM300 439h5v1h-5zM311 439h3v1h-3zM328 439h2v1h-2zM347 439h2v1h-2zM368 439h5v1h-5zM376 439h3v1h-3zM380 439h2v1h-2zM385 439h2v1h-2zM397 439h8v1h-8zM407 439h2v1h-2zM424 439h2v1h-2zM469 439h13v1h-13zM529 439h3v1h-3zM571 439h3v1h-3zM603 439h3v1h-3zM5 440h3v1h-3zM18 440h3v1h-3zM74 440h3v1h-3zM94 440h3v1h-3zM104 440h2v1h-2zM108 440h2v1h-2zM120 440h2v1h-2zM177 440h2v1h-2zM180 440h4v1h-4zM244 440h5v1h-5zM270 440h2v1h-2zM299 440h3v1h-3zM303 440h3v1h-3zM311 440h2v1h-2zM328 440h3v1h-3zM346 440h3v1h-3zM369 440h3v1h-3zM377 440h5v1h-5zM385 440h3v1h-3zM396 440h3v1h-3zM401 440h3v1h-3zM407 440h2v1h-2zM423 440h3v1h-3zM470 440h10v1h-10zM530 440h2v1h-2zM571 440h2v1h-2zM604 440h2v1h-2zM6 441h2v1h-2zM19 441h2v1h-2zM74 441h2v1h-2zM95 441h2v1h-2zM103 441h3v1h-3zM108 441h3v1h-3zM119 441h3v1h-3zM177 441h6v1h-6zM245 441h4v1h-4zM270 441h3v1h-3zM299 441h2v1h-2zM304 441h2v1h-2zM310 441h3v1h-3zM329 441h2v1h-2zM345 441h3v1h-3zM370 441h2v1h-2zM377 441h4v1h-4zM386 441h3v1h-3zM396 441h2v1h-2zM407 441h3v1h-3zM422 441h3v1h-3zM530 441h3v1h-3zM571 441h2v1h-2zM604 441h3v1h-3zM19 442h2v1h-2zM72 442h4v1h-4zM95 442h3v1h-3zM103 442h2v1h-2zM109 442h2v1h-2zM119 442h2v1h-2zM178 442h3v1h-3zM246 442h2v1h-2zM271 442h2v1h-2zM298 442h3v1h-3zM304 442h3v1h-3zM309 442h3v1h-3zM329 442h2v1h-2zM344 442h3v1h-3zM377 442h4v1h-4zM387 442h3v1h-3zM395 442h3v1h-3zM408 442h2v1h-2zM422 442h2v1h-2zM531 442h2v1h-2zM570 442h3v1h-3zM605 442h2v1h-2zM19 443h3v1h-3zM66 443h9v1h-9zM96 443h2v1h-2zM102 443h3v1h-3zM109 443h3v1h-3zM118 443h3v1h-3zM271 443h2v1h-2zM298 443h2v1h-2zM305 443h6v1h-6zM329 443h2v1h-2zM344 443h2v1h-2zM378 443h2v1h-2zM388 443h2v1h-2zM394 443h3v1h-3zM408 443h2v1h-2zM421 443h3v1h-3zM531 443h3v1h-3zM570 443h2v1h-2zM605 443h3v1h-3zM20 444h2v1h-2zM65 444h8v1h-8zM96 444h2v1h-2zM102 444h2v1h-2zM110 444h3v1h-3zM118 444h2v1h-2zM271 444h3v1h-3zM297 444h3v1h-3zM305 444h5v1h-5zM329 444h3v1h-3zM343 444h3v1h-3zM378 444h2v1h-2zM388 444h3v1h-3zM392 444h4v1h-4zM408 444h3v1h-3zM421 444h2v1h-2zM532 444h2v1h-2zM568 444h4v1h-4zM606 444h2v1h-2zM20 445h2v1h-2zM63 445h4v1h-4zM96 445h3v1h-3zM101 445h3v1h-3zM111 445h2v1h-2zM117 445h3v1h-3zM272 445h2v1h-2zM297 445h2v1h-2zM306 445h2v1h-2zM330 445h2v1h-2zM342 445h3v1h-3zM389 445h6v1h-6zM409 445h2v1h-2zM421 445h2v1h-2zM532 445h3v1h-3zM558 445h2v1h-2zM566 445h5v1h-5zM606 445h3v1h-3zM20 446h2v1h-2zM62 446h4v1h-4zM97 446h2v1h-2zM100 446h3v1h-3zM111 446h3v1h-3zM116 446h3v1h-3zM272 446h3v1h-3zM297 446h2v1h-2zM330 446h3v1h-3zM342 446h2v1h-2zM390 446h3v1h-3zM409 446h2v1h-2zM421 446h2v1h-2zM533 446h2v1h-2zM558 446h3v1h-3zM565 446h4v1h-4zM607 446h2v1h-2zM20 447h3v1h-3zM62 447h2v1h-2zM97 447h5v1h-5zM112 447h3v1h-3zM116 447h2v1h-2zM273 447h2v1h-2zM297 447h2v1h-2zM331 447h2v1h-2zM341 447h3v1h-3zM409 447h2v1h-2zM414 447h2v1h-2zM420 447h3v1h-3zM533 447h3v1h-3zM557 447h5v1h-5zM564 447h3v1h-3zM607 447h3v1h-3zM21 448h2v1h-2zM62 448h2v1h-2zM98 448h3v1h-3zM113 448h5v1h-5zM273 448h2v1h-2zM296 448h3v1h-3zM331 448h3v1h-3zM341 448h2v1h-2zM409 448h7v1h-7zM420 448h2v1h-2zM534 448h3v1h-3zM557 448h2v1h-2zM560 448h2v1h-2zM564 448h2v1h-2zM608 448h2v1h-2zM21 449h2v1h-2zM61 449h3v1h-3zM98 449h2v1h-2zM113 449h4v1h-4zM273 449h3v1h-3zM296 449h2v1h-2zM332 449h2v1h-2zM341 449h2v1h-2zM410 449h7v1h-7zM420 449h2v1h-2zM535 449h3v1h-3zM557 449h2v1h-2zM560 449h6v1h-6zM608 449h2v1h-2zM21 450h3v1h-3zM61 450h2v1h-2zM114 450h2v1h-2zM274 450h2v1h-2zM296 450h2v1h-2zM332 450h3v1h-3zM340 450h3v1h-3zM410 450h3v1h-3zM415 450h2v1h-2zM420 450h2v1h-2zM536 450h2v1h-2zM556 450h3v1h-3zM561 450h4v1h-4zM608 450h3v1h-3zM22 451h2v1h-2zM61 451h2v1h-2zM274 451h2v1h-2zM295 451h3v1h-3zM333 451h2v1h-2zM340 451h2v1h-2zM415 451h3v1h-3zM419 451h3v1h-3zM536 451h3v1h-3zM556 451h2v1h-2zM562 451h2v1h-2zM609 451h2v1h-2zM22 452h2v1h-2zM61 452h2v1h-2zM274 452h3v1h-3zM295 452h2v1h-2zM333 452h3v1h-3zM340 452h2v1h-2zM416 452h2v1h-2zM419 452h2v1h-2zM537 452h5v1h-5zM556 452h2v1h-2zM609 452h3v1h-3zM22 453h3v1h-3zM60 453h3v1h-3zM275 453h2v1h-2zM295 453h2v1h-2zM334 453h3v1h-3zM340 453h2v1h-2zM416 453h2v1h-2zM419 453h2v1h-2zM538 453h7v1h-7zM555 453h3v1h-3zM610 453h3v1h-3zM23 454h2v1h-2zM60 454h2v1h-2zM275 454h3v1h-3zM295 454h2v1h-2zM335 454h2v1h-2zM339 454h3v1h-3zM416 454h5v1h-5zM541 454h6v1h-6zM555 454h2v1h-2zM610 454h5v1h-5zM23 455h2v1h-2zM60 455h2v1h-2zM276 455h2v1h-2zM294 455h3v1h-3zM335 455h3v1h-3zM339 455h2v1h-2zM417 455h4v1h-4zM544 455h9v1h-9zM555 455h2v1h-2zM612 455h4v1h-4zM23 456h3v1h-3zM34 456h6v1h-6zM60 456h2v1h-2zM276 456h3v1h-3zM294 456h2v1h-2zM336 456h5v1h-5zM417 456h3v1h-3zM546 456h11v1h-11zM614 456h3v1h-3zM24 457h2v1h-2zM32 457h8v1h-8zM59 457h3v1h-3zM277 457h2v1h-2zM293 457h3v1h-3zM337 457h4v1h-4zM418 457h2v1h-2zM552 457h4v1h-4zM615 457h2v1h-2zM24 458h3v1h-3zM30 458h5v1h-5zM38 458h3v1h-3zM59 458h2v1h-2zM277 458h3v1h-3zM292 458h3v1h-3zM337 458h3v1h-3zM418 458h2v1h-2zM554 458h2v1h-2zM615 458h3v1h-3zM25 459h2v1h-2zM29 459h4v1h-4zM39 459h2v1h-2zM59 459h2v1h-2zM278 459h3v1h-3zM291 459h3v1h-3zM338 459h2v1h-2zM616 459h2v1h-2zM25 460h2v1h-2zM28 460h3v1h-3zM39 460h3v1h-3zM59 460h2v1h-2zM278 460h5v1h-5zM290 460h3v1h-3zM616 460h3v1h-3zM25 461h5v1h-5zM40 461h2v1h-2zM58 461h3v1h-3zM280 461h4v1h-4zM289 461h3v1h-3zM617 461h2v1h-2zM26 462h3v1h-3zM40 462h3v1h-3zM58 462h2v1h-2zM282 462h4v1h-4zM288 462h3v1h-3zM617 462h7v1h-7zM26 463h2v1h-2zM41 463h2v1h-2zM58 463h2v1h-2zM283 463h7v1h-7zM618 463h6v1h-6zM41 464h3v1h-3zM57 464h3v1h-3zM285 464h4v1h-4zM622 464h3v1h-3zM42 465h3v1h-3zM57 465h2v1h-2zM286 465h2v1h-2zM623 465h2v1h-2zM43 466h2v1h-2zM56 466h3v1h-3zM623 466h3v1h-3zM43 467h3v1h-3zM55 467h3v1h-3zM624 467h2v1h-2zM44 468h2v1h-2zM55 468h2v1h-2zM624 468h3v1h-3zM44 469h3v1h-3zM54 469h3v1h-3zM625 469h2v1h-2zM45 470h2v1h-2zM53 470h3v1h-3zM625 470h3v1h-3zM45 471h5v1h-5zM51 471h4v1h-4zM626 471h3v1h-3zM46 472h8v1h-8zM627 472h3v1h-3zM49 473h3v1h-3zM628 473h3v1h-3zM629 474h3v1h-3zM630 475h2v1h-2z"/>
</g>
<rect x="658" y="23" width="2" height="1" fill="#000"/>
<text x="663" y="27" class="t" textLength="33" lengthAdjust="spacingAndGlyphs">1.01140</text>
<rect x="658" y="56" width="2" height="1" fill="#000"/>
<text x="663" y="60" class="t" textLength="33" lengthAdjust="spacingAndGlyphs">1.00420</text>
<rect x="658" y="89" width="2" height="1" fill="#000"/>
<text x="663" y="93" class="t" textLength="33" lengthAdjust="spacingAndGlyphs">0.99680</text>
<rect x="658" y="122" width="2" height="1" fill="#000"/>
<text x="663" y="126" class="t" textLength="33" lengthAdjust="spacingAndGlyphs">0.98960</text>
<rect x="658" y="155" width="2" height="1" fill="#000"/>
<text x="663" y="159" class="t" textLength="33" lengthAdjust="spacingAndGlyphs">0.98240</text>
<rect x="658" y="188" width="2" height="1" fill="#000"/>
<text x="663" y="192" class="t" textLength="33" lengthAdjust="spacingAndGlyphs">0.97500</text>
<rect x="658" y="221" width="2" height="1" fill="#000"/>
<text x="663" y="225" class="t" textLength="33" lengthAdjust="spacingAndGlyphs">0.96780</text>
<rect x="658" y="254" width="2" height="1" fill="#000"/>
<text x="663" y="258" class="t" textLength="33" lengthAdjust="spacingAndGlyphs">0.96040</text>
<rect x="658" y="287" width="2" height="1" fill="#000"/>
<text x="663" y="291" class="t" textLength="33" lengthAdjust="spacingAndGlyphs">0.95320</text>
<rect x="659" y="109" width="41" height="11" fill="#000"/>
<text x="663" y="118" class="t" textLength="33" lengthAdjust="spacingAndGlyphs" fill="#fff" stroke="#fff">0.99144</text>
<rect x="658" y="294" width="2" height="1" fill="#000"/>
<text x="661" y="303" class="t" textLength="10" lengthAdjust="spacingAndGlyphs">75</text>
<text x="661" y="385" class="t" textLength="10" lengthAdjust="spacingAndGlyphs">30</text>
<rect x="658" y="392" width="2" height="1" fill="#000"/>
<text x="661" y="401" class="t" textLength="37" lengthAdjust="spacingAndGlyphs">137.6102</text>
<rect x="658" y="462" width="2" height="1" fill="#000"/>
<text x="661" y="466" class="t" textLength="18" lengthAdjust="spacingAndGlyphs">0.00</text>
<rect x="658" y="478" width="2" height="1" fill="#000"/>
<text x="661" y="476" class="t" textLength="35" lengthAdjust="spacingAndGlyphs">-31.3472</text>
<rect x="578" y="385" width="91" height="4" fill="#000"/>
<rect x="40" y="474" width="599" height="3" fill="#000"/>
<rect x="3" y="480" width="1" height="3" fill="#000"/>
<text x="2.5" y="492.5" class="t" textLength="52" lengthAdjust="spacingAndGlyphs">14 Aug 2018</text>
<rect x="67" y="480" width="1" height="3" fill="#000"/>
<text x="66.5" y="492.5" class="t" textLength="47" lengthAdjust="spacingAndGlyphs">5 Sep 2018</text>
<rect x="131" y="480" width="1" height="3" fill="#000"/>
<text x="130.5" y="492.5" class="t" textLength="51.5" lengthAdjust="spacingAndGlyphs">27 Sep 2018</text>
<rect x="195" y="480" width="1" height="3" fill="#000"/>
<text x="194.5" y="492.5" class="t" textLength="49.5" lengthAdjust="spacingAndGlyphs">19 Oct 2018</text>
<rect x="259" y="480" width="1" height="3" fill="#000"/>
<text x="258.5" y="492.5" class="t" textLength="52.5" lengthAdjust="spacingAndGlyphs">12 Nov 2018</text>
<rect x="323" y="480" width="1" height="3" fill="#000"/>
<text x="322.5" y="492.5" class="t" textLength="46.5" lengthAdjust="spacingAndGlyphs">4 Dec 2018</text>
<rect x="387" y="480" width="1" height="3" fill="#000"/>
<text x="386.5" y="492.5" class="t" textLength="51.5" lengthAdjust="spacingAndGlyphs">27 Dec 2018</text>
<rect x="451" y="480" width="1" height="3" fill="#000"/>
<text x="450.5" y="492.5" class="t" textLength="49" lengthAdjust="spacingAndGlyphs">21 Jan 2019</text>
<rect x="515" y="480" width="1" height="3" fill="#000"/>
<text x="514.5" y="492.5" class="t" textLength="52" lengthAdjust="spacingAndGlyphs">12 Feb 2019</text>
<rect x="579" y="480" width="1" height="3" fill="#000"/>
<text x="578.5" y="492.5" class="t" textLength="46.5" lengthAdjust="spacingAndGlyphs">6 Mar 2019</text>
<path d="M6 9 L13 9 L9.5 13 Z" fill="#000"/>
<text x="18" y="14" class="t" textLength="64" lengthAdjust="spacingAndGlyphs">USDCHF,Daily</text>
<text x="89" y="14" class="t" textLength="33" lengthAdjust="spacingAndGlyphs">0.99097</text>
<text x="125" y="14" class="t" textLength="33" lengthAdjust="spacingAndGlyphs">0.99173</text>
<text x="161" y="14" class="t" textLength="33" lengthAdjust="spacingAndGlyphs">0.99037</text>
<text x="197" y="14" class="t" textLength="33" lengthAdjust="spacingAndGlyphs">0.99144</text>
<text x="7.5" y="304.5" class="t" textLength="31" lengthAdjust="spacingAndGlyphs">RSI(14)</text>
<text x="42" y="304.5" class="t" textLength="33" lengthAdjust="spacingAndGlyphs">34.1994</text>
<text x="81" y="304.5" class="t" textLength="35" lengthAdjust="spacingAndGlyphs">-&gt;MA(9)</text>
<text x="119" y="304.5" class="t" textLength="34" lengthAdjust="spacingAndGlyphs">46.4818</text>
<text x="159.5" y="304.5" class="t" textLength="40" lengthAdjust="spacingAndGlyphs">-&gt;MA(36)</text>
<text x="203.5" y="304.5" class="t" textLength="33" lengthAdjust="spacingAndGlyphs">56.6618</text>
<text x="7.5" y="402.5" class="t" textLength="106.5" lengthAdjust="spacingAndGlyphs">CFG_MO(14,3,9,3,13,33)</text>
<text x="117" y="402.5" class="t" textLength="36" lengthAdjust="spacingAndGlyphs">-23.6673</text>
<text x="157" y="402.5" class="t" textLength="32.5" lengthAdjust="spacingAndGlyphs">37.8564</text>
<text x="193" y="402.5" class="t" textLength="31.5" lengthAdjust="spacingAndGlyphs">45.8806</text>
</svg>
</body></html>
